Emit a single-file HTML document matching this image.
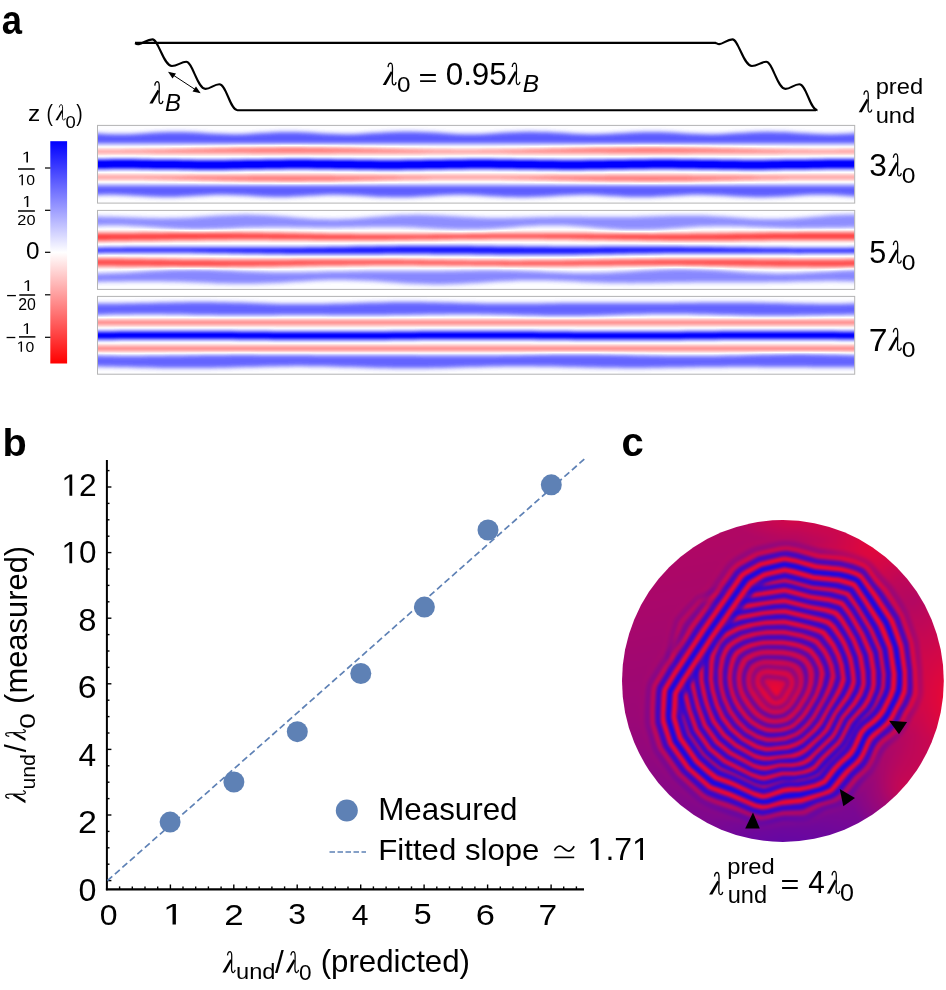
<!DOCTYPE html>
<html><head><meta charset="utf-8"><style>
html,body{margin:0;padding:0;background:#fff;overflow:hidden;width:946px;height:990px;}
svg{display:block;will-change:transform;}
text{font-family:"Liberation Sans",sans-serif;fill:#000;}
</style></head><body>
<svg width="946" height="990" viewBox="0 0 946 990">

<text x="1.73" y="33.60" font-size="41.25" style="font-family:'Liberation Sans';font-weight:bold" textLength="20.23" lengthAdjust="spacingAndGlyphs" >a</text>
<text x="2.58" y="455.93" font-size="38.40" style="font-family:'Liberation Sans';font-weight:bold" textLength="24.24" lengthAdjust="spacingAndGlyphs" >b</text>
<text x="621.44" y="456.10" font-size="40.52" style="font-family:'Liberation Sans';font-weight:bold" textLength="22.23" lengthAdjust="spacingAndGlyphs" >c</text>
<path d="M135.1,43.2 C136.5,44.3 137.6,44.3 138.9,44.1 C143,43.6 147,39.4 152.5,39.4 C158.50,39.40 163.50,66.00 171.90,66.00 C177.50,66.00 181.00,61.80 186.30,61.80 C192.50,61.80 197.50,88.90 205.40,88.90 C210.50,88.90 214.00,84.20 219.30,84.20 C226.50,84.20 230.00,110.20 237.50,110.20 L816,110.2" fill="none" stroke="#000" stroke-width="2.1" stroke-linejoin="round"/>
<path d="M135,42.9 L715.7,42.9 C716.8,43.3 717.8,44.1 719.2,44.1 C723,44 727,39.4 732.5,39.4 C738.50,39.40 743.50,66.00 751.90,66.00 C757.50,66.00 761.00,61.80 766.30,61.80 C772.50,61.80 777.50,88.90 785.40,88.90 C790.50,88.90 794.00,84.20 799.30,84.20 C806.50,84.20 810.00,110.20 817.50,110.20" fill="none" stroke="#000" stroke-width="2.1" stroke-linejoin="round"/>
<line x1="170" y1="73" x2="199" y2="92" stroke="#000" stroke-width="1"/>
<path d="M168,71.8 L176,73.5 L172.5,78.5 Z" fill="#000"/>
<path d="M200.7,93.3 L192.5,91.5 L196,86.5 Z" fill="#000"/>
<g transform="translate(149.40,81.50) scale(1.0149,1.0091)"><path d="M0,21.9L3.2,21.9L10,9.6L8.1,8.2Z" fill="#000"/><path d="M5.3,4.1C5.6,1.3 6.8,0.2 8,0.2C9.4,0.3 9.7,2.5 9.7,5L9.5,18C9.5,21 10.6,21.9 11.4,21.9C12.4,21.9 13,20.6 13.3,19.2" fill="none" stroke="#000" stroke-width="1.3"/></g>
<text x="165.06" y="111.10" font-size="23.40" style="font-family:'Liberation Sans';font-style:italic" textLength="15.95" lengthAdjust="spacingAndGlyphs" >B</text>
<g transform="translate(382.70,63.00) scale(1.0075,1.0000)"><path d="M0,21.9L3.2,21.9L10,9.6L8.1,8.2Z" fill="#000"/><path d="M5.3,4.1C5.6,1.3 6.8,0.2 8,0.2C9.4,0.3 9.7,2.5 9.7,5L9.5,18C9.5,21 10.6,21.9 11.4,21.9C12.4,21.9 13,20.6 13.3,19.2" fill="none" stroke="#000" stroke-width="1.3"/></g>
<text x="396.95" y="92.38" font-size="22.60" style="font-family:'Liberation Sans'" textLength="13.50" lengthAdjust="spacingAndGlyphs" >0</text>
<text x="418.51" y="85.68" font-size="26.69" style="font-family:'Liberation Sans'" textLength="18.99" lengthAdjust="spacingAndGlyphs" >=</text>
<text x="445.67" y="84.90" font-size="30.93" style="font-family:'Liberation Sans'" textLength="61.15" lengthAdjust="spacingAndGlyphs" >0.95</text>
<g transform="translate(507.10,63.00) scale(0.9701,0.9864)"><path d="M0,21.9L3.2,21.9L10,9.6L8.1,8.2Z" fill="#000"/><path d="M5.3,4.1C5.6,1.3 6.8,0.2 8,0.2C9.4,0.3 9.7,2.5 9.7,5L9.5,18C9.5,21 10.6,21.9 11.4,21.9C12.4,21.9 13,20.6 13.3,19.2" fill="none" stroke="#000" stroke-width="1.3"/></g>
<text x="522.75" y="92.20" font-size="23.11" style="font-family:'Liberation Sans';font-style:italic" textLength="16.29" lengthAdjust="spacingAndGlyphs" >B</text>
<g transform="translate(858.70,90.70) scale(0.9851,0.9818)"><path d="M0,21.9L3.2,21.9L10,9.6L8.1,8.2Z" fill="#000"/><path d="M5.3,4.1C5.6,1.3 6.8,0.2 8,0.2C9.4,0.3 9.7,2.5 9.7,5L9.5,18C9.5,21 10.6,21.9 11.4,21.9C12.4,21.9 13,20.6 13.3,19.2" fill="none" stroke="#000" stroke-width="1.3"/></g>
<text x="875.67" y="94.13" font-size="21.56" style="font-family:'Liberation Sans'" textLength="47.46" lengthAdjust="spacingAndGlyphs" >pred</text>
<text x="875.66" y="123.19" font-size="21.51" style="font-family:'Liberation Sans'" textLength="39.57" lengthAdjust="spacingAndGlyphs" >und</text>
<text x="869.30" y="175.70" font-size="31.07" style="font-family:'Liberation Sans'" textLength="17.60" lengthAdjust="spacingAndGlyphs" >3</text>
<g transform="translate(888.10,153.60) scale(0.9925,1.0182)"><path d="M0,21.9L3.2,21.9L10,9.6L8.1,8.2Z" fill="#000"/><path d="M5.3,4.1C5.6,1.3 6.8,0.2 8,0.2C9.4,0.3 9.7,2.5 9.7,5L9.5,18C9.5,21 10.6,21.9 11.4,21.9C12.4,21.9 13,20.6 13.3,19.2" fill="none" stroke="#000" stroke-width="1.3"/></g>
<text x="901.74" y="183.28" font-size="22.32" style="font-family:'Liberation Sans'" textLength="13.73" lengthAdjust="spacingAndGlyphs" >0</text>
<text x="869.28" y="262.89" font-size="31.24" style="font-family:'Liberation Sans'" textLength="17.01" lengthAdjust="spacingAndGlyphs" >5</text>
<g transform="translate(888.10,240.90) scale(0.9925,1.0136)"><path d="M0,21.9L3.2,21.9L10,9.6L8.1,8.2Z" fill="#000"/><path d="M5.3,4.1C5.6,1.3 6.8,0.2 8,0.2C9.4,0.3 9.7,2.5 9.7,5L9.5,18C9.5,21 10.6,21.9 11.4,21.9C12.4,21.9 13,20.6 13.3,19.2" fill="none" stroke="#000" stroke-width="1.3"/></g>
<text x="901.74" y="270.28" font-size="22.60" style="font-family:'Liberation Sans'" textLength="13.73" lengthAdjust="spacingAndGlyphs" >0</text>
<text x="868.76" y="350.50" font-size="31.11" style="font-family:'Liberation Sans'" textLength="18.84" lengthAdjust="spacingAndGlyphs" >7</text>
<g transform="translate(888.10,328.20) scale(0.9925,1.0136)"><path d="M0,21.9L3.2,21.9L10,9.6L8.1,8.2Z" fill="#000"/><path d="M5.3,4.1C5.6,1.3 6.8,0.2 8,0.2C9.4,0.3 9.7,2.5 9.7,5L9.5,18C9.5,21 10.6,21.9 11.4,21.9C12.4,21.9 13,20.6 13.3,19.2" fill="none" stroke="#000" stroke-width="1.3"/></g>
<text x="901.74" y="357.48" font-size="22.46" style="font-family:'Liberation Sans'" textLength="13.73" lengthAdjust="spacingAndGlyphs" >0</text>
<defs><linearGradient id="cb" x1="0" y1="0" x2="0" y2="1">
<stop offset="0" stop-color="#0000ff"/><stop offset="0.5" stop-color="#ffffff"/><stop offset="1" stop-color="#ff0000"/></linearGradient></defs>
<rect x="50.3" y="141.2" width="16.8" height="222.3" fill="url(#cb)"/>
<line x1="45" y1="168" x2="50.4" y2="168" stroke="#000" stroke-width="1.2"/>
<line x1="45" y1="210.3" x2="50.4" y2="210.3" stroke="#000" stroke-width="1.2"/>
<line x1="45" y1="252.3" x2="50.4" y2="252.3" stroke="#000" stroke-width="1.2"/>
<line x1="45" y1="294.8" x2="50.4" y2="294.8" stroke="#000" stroke-width="1.2"/>
<line x1="45" y1="337.3" x2="50.4" y2="337.3" stroke="#000" stroke-width="1.2"/>
<text x="27.91" y="120.60" font-size="22.52" style="font-family:'Liberation Sans'" textLength="12.21" lengthAdjust="spacingAndGlyphs" >z</text>
<text x="46.61" y="121.02" font-size="23.08" style="font-family:'Liberation Sans'" textLength="6.41" lengthAdjust="spacingAndGlyphs" >(</text>
<g transform="translate(55.40,104.50) scale(0.7388,0.7136)"><path d="M0,21.9L3.2,21.9L10,9.6L8.1,8.2Z" fill="#000"/><path d="M5.3,4.1C5.6,1.3 6.8,0.2 8,0.2C9.4,0.3 9.7,2.5 9.7,5L9.5,18C9.5,21 10.6,21.9 11.4,21.9C12.4,21.9 13,20.6 13.3,19.2" fill="none" stroke="#000" stroke-width="1.3"/></g>
<text x="65.58" y="128.14" font-size="16.10" style="font-family:'Liberation Sans'" textLength="10.24" lengthAdjust="spacingAndGlyphs" >0</text>
<text x="76.19" y="121.02" font-size="23.08" style="font-family:'Liberation Sans'" textLength="6.41" lengthAdjust="spacingAndGlyphs" >)</text>
<path transform="translate(21.72,162.60) scale(0.00902,-0.00767)" d="M515,0L515,1237L197,1010L197,1180L530,1409L696,1409L696,0Z" fill="#000"/>
<rect x="18" y="168.25" width="16.70" height="1.5" fill="#000"/>
<text x="17.58" y="185.25" font-size="15.54" style="font-family:'Liberation Sans'" textLength="17.53" lengthAdjust="spacingAndGlyphs" > 0</text><path transform="translate(17.58,185.25) scale(0.00770,-0.00759)" d="M515,0L515,1237L197,1010L197,1180L530,1409L696,1409L696,0Z" fill="#000"/>
<path transform="translate(22.30,206.90) scale(0.00862,-0.00781)" d="M515,0L515,1237L197,1010L197,1180L530,1409L696,1409L696,0Z" fill="#000"/>
<rect x="18" y="210.25" width="16.90" height="1.5" fill="#000"/>
<text x="17.38" y="224.95" font-size="15.54" style="font-family:'Liberation Sans'" textLength="18.16" lengthAdjust="spacingAndGlyphs" >20</text>
<text x="26.05" y="259.47" font-size="23.30" style="font-family:'Liberation Sans'" textLength="13.50" lengthAdjust="spacingAndGlyphs" >0</text>
<rect x="7.1" y="294.95" width="8.80" height="1.3" fill="#000"/>
<path transform="translate(22.82,291.10) scale(0.00902,-0.00767)" d="M515,0L515,1237L197,1010L197,1180L530,1409L696,1409L696,0Z" fill="#000"/>
<rect x="19.3" y="294.25" width="15.80" height="1.5" fill="#000"/>
<text x="18.30" y="309.95" font-size="15.68" style="font-family:'Liberation Sans'" textLength="17.62" lengthAdjust="spacingAndGlyphs" >20</text>
<rect x="6.6" y="336.85" width="8.70" height="1.3" fill="#000"/>
<path transform="translate(22.14,333.90) scale(0.00842,-0.00752)" d="M515,0L515,1237L197,1010L197,1180L530,1409L696,1409L696,0Z" fill="#000"/>
<rect x="19" y="336.15" width="16.40" height="1.5" fill="#000"/>
<text x="16.68" y="351.66" font-size="14.83" style="font-family:'Liberation Sans'" textLength="17.53" lengthAdjust="spacingAndGlyphs" > 0</text><path transform="translate(16.68,351.66) scale(0.00770,-0.00724)" d="M515,0L515,1237L197,1010L197,1180L530,1409L696,1409L696,0Z" fill="#000"/>
<filter id="cmap" x="0" y="0" width="1" height="1" color-interpolation-filters="sRGB">
<feGaussianBlur stdDeviation="2.2"/>
<feComponentTransfer>
<feFuncR type="table" tableValues="1 1 1 1 0.5 0 0"/>
<feFuncG type="table" tableValues="0 0 0.5 1 0.5 0 0"/>
<feFuncB type="table" tableValues="0 0 0.5 1 1 1 1"/>
</feComponentTransfer></filter>
<clipPath id="pc1"><rect x="97.5" y="125.4" width="757.2" height="77.69999999999999"/></clipPath>
<g clip-path="url(#pc1)"><g filter="url(#cmap)">
<rect x="80" y="110.4" width="800" height="107.69999999999999" fill="#808080"/>
<path d="M85,132.6 L92,133.0 L99,133.5 L106,133.9 L113,134.2 L120,134.3 L127,134.2 L134,133.9 L141,133.5 L148,133.1 L155,132.6 L162,132.3 L169,132.1 L176,132.0 L183,132.0 L190,132.3 L197,132.6 L204,133.0 L211,133.4 L218,133.8 L225,134.1 L232,134.2 L239,134.2 L246,133.9 L253,133.6 L260,133.1 L267,132.7 L274,132.3 L281,132.1 L288,132.0 L295,132.1 L302,132.3 L309,132.6 L316,133.0 L323,133.4 L330,133.8 L337,134.1 L344,134.2 L351,134.2 L358,133.9 L365,133.5 L372,133.1 L379,132.7 L386,132.3 L393,132.0 L400,131.8 L407,131.7 L414,131.8 L421,132.0 L428,132.2 L435,132.6 L442,133.0 L449,133.5 L456,133.9 L463,134.2 L470,134.3 L477,134.2 L484,133.9 L491,133.5 L498,133.0 L505,132.6 L512,132.2 L519,132.0 L526,131.8 L533,131.8 L540,131.9 L547,132.1 L554,132.4 L561,132.8 L568,133.2 L575,133.7 L582,134.0 L589,134.2 L596,134.2 L603,134.1 L610,133.7 L617,133.3 L624,132.9 L631,132.5 L638,132.2 L645,132.0 L652,131.9 L659,132.0 L666,132.2 L673,132.6 L680,133.0 L687,133.4 L694,133.8 L701,134.1 L708,134.2 L715,134.2 L722,133.9 L729,133.6 L736,133.1 L743,132.7 L750,132.3 L757,132.0 L764,131.8 L771,131.8 L778,131.9 L785,132.1 L792,132.4 L799,132.9 L806,133.3 L813,133.7 L820,134.1 L827,134.2 L834,134.2 L841,134.0 L848,133.7 L855,133.2 L862,132.8 L869,132.4 L869,143.8 L862,143.8 L855,143.8 L848,143.8 L841,143.8 L834,143.8 L827,143.8 L820,143.8 L813,143.8 L806,143.8 L799,143.8 L792,143.8 L785,143.8 L778,143.8 L771,143.8 L764,143.8 L757,143.8 L750,143.8 L743,143.8 L736,143.8 L729,143.8 L722,143.8 L715,143.8 L708,143.8 L701,143.8 L694,143.8 L687,143.8 L680,143.8 L673,143.8 L666,143.8 L659,143.8 L652,143.8 L645,143.8 L638,143.8 L631,143.8 L624,143.8 L617,143.8 L610,143.8 L603,143.8 L596,143.8 L589,143.8 L582,143.8 L575,143.8 L568,143.8 L561,143.8 L554,143.8 L547,143.8 L540,143.8 L533,143.8 L526,143.8 L519,143.8 L512,143.8 L505,143.8 L498,143.8 L491,143.8 L484,143.8 L477,143.8 L470,143.7 L463,143.8 L456,143.8 L449,143.8 L442,143.8 L435,143.8 L428,143.8 L421,143.8 L414,143.8 L407,143.8 L400,143.8 L393,143.8 L386,143.8 L379,143.8 L372,143.8 L365,143.8 L358,143.8 L351,143.8 L344,143.8 L337,143.8 L330,143.8 L323,143.8 L316,143.8 L309,143.8 L302,143.8 L295,143.8 L288,143.8 L281,143.8 L274,143.8 L267,143.8 L260,143.8 L253,143.8 L246,143.8 L239,143.8 L232,143.8 L225,143.8 L218,143.8 L211,143.8 L204,143.8 L197,143.8 L190,143.8 L183,143.8 L176,143.8 L169,143.8 L162,143.8 L155,143.8 L148,143.8 L141,143.8 L134,143.8 L127,143.8 L120,143.7 L113,143.8 L106,143.8 L99,143.8 L92,143.8 L85,143.8Z" fill="#fff" fill-opacity="0.429"/>
<path d="M85,149.8 L92,149.8 L99,149.9 L106,149.9 L113,149.9 L120,149.9 L127,149.8 L134,149.8 L141,149.7 L148,149.6 L155,149.5 L162,149.4 L169,149.2 L176,149.1 L183,148.9 L190,148.8 L197,148.6 L204,148.4 L211,148.2 L218,148.1 L225,147.9 L232,147.8 L239,147.6 L246,147.5 L253,147.4 L260,147.3 L267,147.2 L274,147.2 L281,147.1 L288,147.1 L295,147.1 L302,147.1 L309,147.2 L316,147.2 L323,147.3 L330,147.4 L337,147.6 L344,147.7 L351,147.8 L358,148.0 L365,148.2 L372,148.3 L379,148.5 L386,148.7 L393,148.8 L400,149.0 L407,149.2 L414,149.3 L421,149.4 L428,149.6 L435,149.7 L442,149.8 L449,149.8 L456,149.9 L463,149.9 L470,149.9 L477,149.9 L484,149.8 L491,149.8 L498,149.7 L505,149.6 L512,149.5 L519,149.4 L526,149.2 L533,149.1 L540,148.9 L547,148.8 L554,148.6 L561,148.4 L568,148.2 L575,148.1 L582,147.9 L589,147.8 L596,147.6 L603,147.5 L610,147.4 L617,147.3 L624,147.2 L631,147.2 L638,147.1 L645,147.1 L652,147.1 L659,147.1 L666,147.2 L673,147.2 L680,147.3 L687,147.4 L694,147.6 L701,147.7 L708,147.8 L715,148.0 L722,148.2 L729,148.3 L736,148.5 L743,148.7 L750,148.8 L757,149.0 L764,149.2 L771,149.3 L778,149.4 L785,149.6 L792,149.7 L799,149.8 L806,149.8 L813,149.9 L820,149.9 L827,149.9 L834,149.9 L841,149.8 L848,149.8 L855,149.7 L862,149.6 L869,149.5 L869,153.4 L862,153.3 L855,153.3 L848,153.3 L841,153.3 L834,153.3 L827,153.3 L820,153.3 L813,153.3 L806,153.3 L799,153.3 L792,153.3 L785,153.3 L778,153.4 L771,153.4 L764,153.4 L757,153.4 L750,153.5 L743,153.5 L736,153.5 L729,153.5 L722,153.5 L715,153.6 L708,153.6 L701,153.6 L694,153.6 L687,153.7 L680,153.7 L673,153.7 L666,153.7 L659,153.7 L652,153.7 L645,153.7 L638,153.7 L631,153.7 L624,153.7 L617,153.7 L610,153.7 L603,153.6 L596,153.6 L589,153.6 L582,153.6 L575,153.6 L568,153.5 L561,153.5 L554,153.5 L547,153.5 L540,153.4 L533,153.4 L526,153.4 L519,153.4 L512,153.4 L505,153.3 L498,153.3 L491,153.3 L484,153.3 L477,153.3 L470,153.3 L463,153.3 L456,153.3 L449,153.3 L442,153.3 L435,153.3 L428,153.3 L421,153.4 L414,153.4 L407,153.4 L400,153.4 L393,153.5 L386,153.5 L379,153.5 L372,153.5 L365,153.5 L358,153.6 L351,153.6 L344,153.6 L337,153.6 L330,153.7 L323,153.7 L316,153.7 L309,153.7 L302,153.7 L295,153.7 L288,153.7 L281,153.7 L274,153.7 L267,153.7 L260,153.7 L253,153.7 L246,153.6 L239,153.6 L232,153.6 L225,153.6 L218,153.6 L211,153.5 L204,153.5 L197,153.5 L190,153.5 L183,153.4 L176,153.4 L169,153.4 L162,153.4 L155,153.4 L148,153.3 L141,153.3 L134,153.3 L127,153.3 L120,153.3 L113,153.3 L106,153.3 L99,153.3 L92,153.3 L85,153.3Z" fill="#000" fill-opacity="0.358"/>
<path d="M85,159.9 L92,159.8 L99,159.7 L106,159.7 L113,159.6 L120,159.6 L127,159.6 L134,159.6 L141,159.7 L148,159.8 L155,159.9 L162,159.9 L169,160.0 L176,160.1 L183,160.2 L190,160.3 L197,160.4 L204,160.4 L211,160.4 L218,160.4 L225,160.4 L232,160.3 L239,160.2 L246,160.1 L253,160.0 L260,159.9 L267,159.8 L274,159.8 L281,159.7 L288,159.6 L295,159.6 L302,159.6 L309,159.6 L316,159.7 L323,159.7 L330,159.8 L337,159.9 L344,160.0 L351,160.1 L358,160.2 L365,160.2 L372,160.3 L379,160.4 L386,160.4 L393,160.4 L400,160.4 L407,160.3 L414,160.3 L421,160.2 L428,160.1 L435,160.0 L442,159.9 L449,159.8 L456,159.7 L463,159.7 L470,159.6 L477,159.6 L484,159.6 L491,159.6 L498,159.7 L505,159.7 L512,159.8 L519,159.9 L526,160.0 L533,160.1 L540,160.2 L547,160.3 L554,160.3 L561,160.4 L568,160.4 L575,160.4 L582,160.4 L589,160.3 L596,160.3 L603,160.2 L610,160.1 L617,160.0 L624,159.9 L631,159.8 L638,159.7 L645,159.7 L652,159.6 L659,159.6 L666,159.6 L673,159.6 L680,159.7 L687,159.8 L694,159.8 L701,159.9 L708,160.0 L715,160.1 L722,160.2 L729,160.3 L736,160.3 L743,160.4 L750,160.4 L757,160.4 L764,160.4 L771,160.3 L778,160.2 L785,160.1 L792,160.1 L799,160.0 L806,159.9 L813,159.8 L820,159.7 L827,159.6 L834,159.6 L841,159.6 L848,159.6 L855,159.6 L862,159.7 L869,159.8 L869,168.8 L862,168.7 L855,168.6 L848,168.6 L841,168.6 L834,168.6 L827,168.6 L820,168.7 L813,168.8 L806,168.9 L799,169.0 L792,169.1 L785,169.1 L778,169.2 L771,169.3 L764,169.4 L757,169.4 L750,169.4 L743,169.4 L736,169.3 L729,169.3 L722,169.2 L715,169.1 L708,169.0 L701,168.9 L694,168.8 L687,168.8 L680,168.7 L673,168.6 L666,168.6 L659,168.6 L652,168.6 L645,168.7 L638,168.7 L631,168.8 L624,168.9 L617,169.0 L610,169.1 L603,169.2 L596,169.3 L589,169.3 L582,169.4 L575,169.4 L568,169.4 L561,169.4 L554,169.3 L547,169.3 L540,169.2 L533,169.1 L526,169.0 L519,168.9 L512,168.8 L505,168.7 L498,168.7 L491,168.6 L484,168.6 L477,168.6 L470,168.6 L463,168.7 L456,168.7 L449,168.8 L442,168.9 L435,169.0 L428,169.1 L421,169.2 L414,169.3 L407,169.3 L400,169.4 L393,169.4 L386,169.4 L379,169.4 L372,169.3 L365,169.2 L358,169.2 L351,169.1 L344,169.0 L337,168.9 L330,168.8 L323,168.7 L316,168.7 L309,168.6 L302,168.6 L295,168.6 L288,168.6 L281,168.7 L274,168.8 L267,168.8 L260,168.9 L253,169.0 L246,169.1 L239,169.2 L232,169.3 L225,169.4 L218,169.4 L211,169.4 L204,169.4 L197,169.4 L190,169.3 L183,169.2 L176,169.1 L169,169.0 L162,168.9 L155,168.9 L148,168.8 L141,168.7 L134,168.6 L127,168.6 L120,168.6 L113,168.6 L106,168.7 L99,168.7 L92,168.8 L85,168.9Z" fill="#fff" fill-opacity="0.765"/>
<path d="M85,175.5 L92,175.5 L99,175.5 L106,175.5 L113,175.5 L120,175.5 L127,175.5 L134,175.5 L141,175.5 L148,175.5 L155,175.4 L162,175.4 L169,175.4 L176,175.4 L183,175.4 L190,175.3 L197,175.3 L204,175.3 L211,175.3 L218,175.2 L225,175.2 L232,175.2 L239,175.2 L246,175.2 L253,175.1 L260,175.1 L267,175.1 L274,175.1 L281,175.1 L288,175.1 L295,175.1 L302,175.1 L309,175.1 L316,175.1 L323,175.1 L330,175.1 L337,175.2 L344,175.2 L351,175.2 L358,175.2 L365,175.3 L372,175.3 L379,175.3 L386,175.3 L393,175.3 L400,175.4 L407,175.4 L414,175.4 L421,175.4 L428,175.5 L435,175.5 L442,175.5 L449,175.5 L456,175.5 L463,175.5 L470,175.5 L477,175.5 L484,175.5 L491,175.5 L498,175.5 L505,175.5 L512,175.4 L519,175.4 L526,175.4 L533,175.4 L540,175.4 L547,175.3 L554,175.3 L561,175.3 L568,175.3 L575,175.2 L582,175.2 L589,175.2 L596,175.2 L603,175.2 L610,175.1 L617,175.1 L624,175.1 L631,175.1 L638,175.1 L645,175.1 L652,175.1 L659,175.1 L666,175.1 L673,175.1 L680,175.1 L687,175.1 L694,175.2 L701,175.2 L708,175.2 L715,175.2 L722,175.3 L729,175.3 L736,175.3 L743,175.3 L750,175.3 L757,175.4 L764,175.4 L771,175.4 L778,175.4 L785,175.5 L792,175.5 L799,175.5 L806,175.5 L813,175.5 L820,175.5 L827,175.5 L834,175.5 L841,175.5 L848,175.5 L855,175.5 L862,175.5 L869,175.4 L869,179.3 L862,179.2 L855,179.1 L848,179.0 L841,179.0 L834,178.9 L827,178.9 L820,178.9 L813,178.9 L806,179.0 L799,179.0 L792,179.1 L785,179.2 L778,179.4 L771,179.5 L764,179.6 L757,179.8 L750,180.0 L743,180.1 L736,180.3 L729,180.5 L722,180.6 L715,180.8 L708,181.0 L701,181.1 L694,181.2 L687,181.4 L680,181.5 L673,181.6 L666,181.6 L659,181.7 L652,181.7 L645,181.7 L638,181.7 L631,181.6 L624,181.6 L617,181.5 L610,181.4 L603,181.3 L596,181.2 L589,181.0 L582,180.9 L575,180.7 L568,180.6 L561,180.4 L554,180.2 L547,180.0 L540,179.9 L533,179.7 L526,179.6 L519,179.4 L512,179.3 L505,179.2 L498,179.1 L491,179.0 L484,179.0 L477,178.9 L470,178.9 L463,178.9 L456,178.9 L449,179.0 L442,179.0 L435,179.1 L428,179.2 L421,179.4 L414,179.5 L407,179.6 L400,179.8 L393,180.0 L386,180.1 L379,180.3 L372,180.5 L365,180.6 L358,180.8 L351,181.0 L344,181.1 L337,181.2 L330,181.4 L323,181.5 L316,181.6 L309,181.6 L302,181.7 L295,181.7 L288,181.7 L281,181.7 L274,181.6 L267,181.6 L260,181.5 L253,181.4 L246,181.3 L239,181.2 L232,181.0 L225,180.9 L218,180.7 L211,180.6 L204,180.4 L197,180.2 L190,180.0 L183,179.9 L176,179.7 L169,179.6 L162,179.4 L155,179.3 L148,179.2 L141,179.1 L134,179.0 L127,179.0 L120,178.9 L113,178.9 L106,178.9 L99,178.9 L92,179.0 L85,179.0Z" fill="#000" fill-opacity="0.358"/>
<path d="M85,185.2 L92,185.2 L99,185.2 L106,185.2 L113,185.2 L120,185.2 L127,185.2 L134,185.2 L141,185.2 L148,185.2 L155,185.2 L162,185.2 L169,185.2 L176,185.2 L183,185.2 L190,185.2 L197,185.2 L204,185.2 L211,185.2 L218,185.2 L225,185.2 L232,185.2 L239,185.2 L246,185.2 L253,185.2 L260,185.2 L267,185.2 L274,185.2 L281,185.2 L288,185.2 L295,185.2 L302,185.2 L309,185.2 L316,185.2 L323,185.2 L330,185.2 L337,185.2 L344,185.2 L351,185.2 L358,185.2 L365,185.2 L372,185.2 L379,185.2 L386,185.2 L393,185.2 L400,185.2 L407,185.2 L414,185.2 L421,185.2 L428,185.2 L435,185.2 L442,185.2 L449,185.2 L456,185.2 L463,185.2 L470,185.2 L477,185.2 L484,185.2 L491,185.2 L498,185.2 L505,185.2 L512,185.2 L519,185.2 L526,185.2 L533,185.2 L540,185.2 L547,185.2 L554,185.2 L561,185.2 L568,185.2 L575,185.2 L582,185.2 L589,185.2 L596,185.2 L603,185.2 L610,185.2 L617,185.2 L624,185.2 L631,185.2 L638,185.2 L645,185.2 L652,185.2 L659,185.2 L666,185.2 L673,185.2 L680,185.2 L687,185.2 L694,185.2 L701,185.2 L708,185.2 L715,185.2 L722,185.2 L729,185.2 L736,185.2 L743,185.2 L750,185.2 L757,185.2 L764,185.2 L771,185.2 L778,185.2 L785,185.2 L792,185.2 L799,185.2 L806,185.2 L813,185.2 L820,185.3 L827,185.2 L834,185.2 L841,185.2 L848,185.2 L855,185.2 L862,185.2 L869,185.2 L869,197.1 L862,196.8 L855,196.4 L848,196.0 L841,195.5 L834,195.1 L827,194.8 L820,194.7 L813,194.8 L806,195.1 L799,195.5 L792,196.0 L785,196.4 L778,196.8 L771,197.0 L764,197.2 L757,197.2 L750,197.1 L743,196.8 L736,196.5 L729,196.1 L722,195.6 L715,195.2 L708,194.9 L701,194.8 L694,194.8 L687,195.0 L680,195.4 L673,195.8 L666,196.3 L659,196.6 L652,196.9 L645,197.1 L638,197.1 L631,196.9 L624,196.7 L617,196.3 L610,195.9 L603,195.4 L596,195.1 L589,194.8 L582,194.8 L575,194.9 L568,195.2 L561,195.6 L554,196.0 L547,196.5 L540,196.8 L533,197.1 L526,197.2 L519,197.2 L512,197.1 L505,196.9 L498,196.6 L491,196.2 L484,195.7 L477,195.3 L470,194.9 L463,194.8 L456,194.8 L449,195.0 L442,195.3 L435,195.8 L428,196.2 L421,196.6 L414,196.9 L407,197.2 L400,197.3 L393,197.2 L386,197.1 L379,196.9 L372,196.5 L365,196.1 L358,195.6 L351,195.2 L344,194.9 L337,194.8 L330,194.8 L323,195.0 L316,195.4 L309,195.8 L302,196.2 L295,196.6 L288,196.9 L281,197.0 L274,197.0 L267,196.8 L260,196.5 L253,196.1 L246,195.6 L239,195.2 L232,194.9 L225,194.8 L218,194.8 L211,195.0 L204,195.4 L197,195.8 L190,196.3 L183,196.6 L176,196.9 L169,197.0 L162,197.0 L155,196.8 L148,196.5 L141,196.1 L134,195.7 L127,195.3 L120,194.9 L113,194.8 L106,194.8 L99,195.0 L92,195.3 L85,195.8Z" fill="#fff" fill-opacity="0.415"/>
</g></g>
<rect x="97.5" y="125.4" width="757.2" height="77.69999999999999" fill="none" stroke="#b4b4b4" stroke-width="1"/>
<clipPath id="pc2"><rect x="97.5" y="210.4" width="757.2" height="78.99999999999997"/></clipPath>
<g clip-path="url(#pc2)"><g filter="url(#cmap)">
<rect x="80" y="195.4" width="800" height="108.99999999999997" fill="#808080"/>
<path d="M85,216.5 L92,216.5 L99,216.6 L106,216.7 L113,216.8 L120,217.1 L127,217.3 L134,217.6 L141,217.8 L148,218.0 L155,218.1 L162,218.2 L169,218.1 L176,218.0 L183,217.8 L190,217.4 L197,217.0 L204,216.5 L211,216.1 L218,215.6 L225,215.2 L232,214.9 L239,214.7 L246,214.6 L253,214.7 L260,214.9 L267,215.2 L274,215.7 L281,216.2 L288,216.8 L295,217.4 L302,218.0 L309,218.5 L316,218.9 L323,219.1 L330,219.2 L337,219.2 L344,219.0 L351,218.7 L358,218.2 L365,217.7 L372,217.1 L379,216.5 L386,216.0 L393,215.5 L400,215.1 L407,214.9 L414,214.8 L421,214.8 L428,214.9 L435,215.2 L442,215.5 L449,215.9 L456,216.3 L463,216.8 L470,217.1 L477,217.5 L484,217.7 L491,217.9 L498,217.9 L505,217.9 L512,217.8 L519,217.7 L526,217.5 L533,217.3 L540,217.1 L547,216.9 L554,216.8 L561,216.7 L568,216.7 L575,216.7 L582,216.8 L589,216.9 L596,217.0 L603,217.1 L610,217.1 L617,217.1 L624,217.0 L631,216.9 L638,216.8 L645,216.5 L652,216.3 L659,216.0 L666,215.8 L673,215.6 L680,215.5 L687,215.4 L694,215.5 L701,215.6 L708,215.8 L715,216.2 L722,216.6 L729,217.1 L736,217.5 L743,218.0 L750,218.4 L757,218.7 L764,218.9 L771,219.0 L778,218.9 L785,218.7 L792,218.4 L799,217.9 L806,217.4 L813,216.8 L820,216.2 L827,215.6 L834,215.1 L841,214.7 L848,214.5 L855,214.4 L862,214.4 L869,214.6 L869,228.0 L862,227.9 L855,227.8 L848,227.8 L841,227.9 L834,228.0 L827,228.1 L820,228.2 L813,228.3 L806,228.3 L799,228.4 L792,228.3 L785,228.2 L778,228.1 L771,227.8 L764,227.5 L757,227.2 L750,226.9 L743,226.6 L736,226.4 L729,226.2 L722,226.2 L715,226.2 L708,226.4 L701,226.6 L694,227.0 L687,227.5 L680,228.0 L673,228.5 L666,229.0 L659,229.4 L652,229.8 L645,230.0 L638,230.1 L631,230.1 L624,229.9 L617,229.5 L610,229.1 L603,228.5 L596,227.9 L589,227.3 L582,226.7 L575,226.2 L568,225.8 L561,225.5 L554,225.4 L547,225.4 L540,225.6 L533,225.9 L526,226.3 L519,226.8 L512,227.4 L505,227.9 L498,228.4 L491,228.9 L484,229.3 L477,229.5 L470,229.6 L463,229.6 L456,229.5 L449,229.3 L442,229.0 L435,228.7 L428,228.3 L421,227.9 L414,227.6 L407,227.3 L400,227.1 L393,227.0 L386,227.0 L379,227.0 L372,227.1 L365,227.2 L358,227.3 L351,227.5 L344,227.6 L337,227.7 L330,227.8 L323,227.8 L316,227.7 L309,227.6 L302,227.5 L295,227.4 L288,227.3 L281,227.3 L274,227.2 L267,227.3 L260,227.4 L253,227.5 L246,227.8 L239,228.1 L232,228.4 L225,228.7 L218,229.0 L211,229.2 L204,229.4 L197,229.4 L190,229.4 L183,229.2 L176,229.0 L169,228.6 L162,228.1 L155,227.6 L148,227.1 L141,226.6 L134,226.2 L127,225.8 L120,225.6 L113,225.5 L106,225.5 L99,225.7 L92,226.1 L85,226.5Z" fill="#fff" fill-opacity="0.290"/>
<path d="M85,233.2 L92,233.2 L99,233.1 L106,233.1 L113,233.1 L120,233.0 L127,232.9 L134,232.9 L141,232.8 L148,232.8 L155,232.7 L162,232.7 L169,232.6 L176,232.6 L183,232.5 L190,232.5 L197,232.5 L204,232.5 L211,232.5 L218,232.5 L225,232.5 L232,232.6 L239,232.6 L246,232.7 L253,232.7 L260,232.8 L267,232.9 L274,233.0 L281,233.1 L288,233.2 L295,233.3 L302,233.4 L309,233.6 L316,233.7 L323,233.8 L330,233.9 L337,234.0 L344,234.0 L351,234.1 L358,234.2 L365,234.2 L372,234.3 L379,234.3 L386,234.3 L393,234.3 L400,234.3 L407,234.3 L414,234.3 L421,234.2 L428,234.2 L435,234.1 L442,234.1 L449,234.0 L456,233.9 L463,233.9 L470,233.8 L477,233.7 L484,233.7 L491,233.6 L498,233.6 L505,233.5 L512,233.5 L519,233.5 L526,233.4 L533,233.4 L540,233.4 L547,233.4 L554,233.5 L561,233.5 L568,233.5 L575,233.5 L582,233.6 L589,233.6 L596,233.7 L603,233.7 L610,233.7 L617,233.8 L624,233.8 L631,233.8 L638,233.8 L645,233.8 L652,233.9 L659,233.8 L666,233.8 L673,233.8 L680,233.8 L687,233.7 L694,233.6 L701,233.6 L708,233.5 L715,233.4 L722,233.3 L729,233.2 L736,233.1 L743,233.0 L750,232.9 L757,232.8 L764,232.7 L771,232.6 L778,232.5 L785,232.5 L792,232.4 L799,232.3 L806,232.3 L813,232.2 L820,232.2 L827,232.2 L834,232.2 L841,232.2 L848,232.3 L855,232.3 L862,232.3 L869,232.4 L869,240.2 L862,240.1 L855,240.1 L848,240.1 L841,240.0 L834,240.0 L827,240.0 L820,240.0 L813,240.0 L806,240.0 L799,240.0 L792,240.0 L785,240.1 L778,240.1 L771,240.1 L764,240.2 L757,240.2 L750,240.3 L743,240.3 L736,240.4 L729,240.4 L722,240.4 L715,240.5 L708,240.5 L701,240.5 L694,240.5 L687,240.5 L680,240.4 L673,240.4 L666,240.4 L659,240.3 L652,240.2 L645,240.2 L638,240.1 L631,240.0 L624,239.9 L617,239.8 L610,239.7 L603,239.6 L596,239.5 L589,239.4 L582,239.3 L575,239.2 L568,239.1 L561,239.0 L554,238.9 L547,238.9 L540,238.8 L533,238.8 L526,238.8 L519,238.7 L512,238.7 L505,238.8 L498,238.8 L491,238.8 L484,238.9 L477,238.9 L470,239.0 L463,239.1 L456,239.1 L449,239.2 L442,239.3 L435,239.4 L428,239.5 L421,239.6 L414,239.6 L407,239.7 L400,239.8 L393,239.8 L386,239.9 L379,239.9 L372,239.9 L365,239.9 L358,240.0 L351,240.0 L344,240.0 L337,239.9 L330,239.9 L323,239.9 L316,239.9 L309,239.8 L302,239.8 L295,239.8 L288,239.7 L281,239.7 L274,239.7 L267,239.6 L260,239.6 L253,239.6 L246,239.6 L239,239.6 L232,239.6 L225,239.7 L218,239.7 L211,239.8 L204,239.8 L197,239.9 L190,240.0 L183,240.0 L176,240.1 L169,240.2 L162,240.3 L155,240.4 L148,240.5 L141,240.6 L134,240.6 L127,240.7 L120,240.8 L113,240.8 L106,240.9 L99,240.9 L92,241.0 L85,241.0Z" fill="#000" fill-opacity="0.511"/>
<path d="M85,248.0 L92,247.9 L99,247.9 L106,247.8 L113,247.7 L120,247.7 L127,247.6 L134,247.6 L141,247.5 L148,247.5 L155,247.4 L162,247.4 L169,247.4 L176,247.4 L183,247.4 L190,247.4 L197,247.4 L204,247.4 L211,247.4 L218,247.5 L225,247.5 L232,247.5 L239,247.5 L246,247.6 L253,247.6 L260,247.6 L267,247.6 L274,247.6 L281,247.5 L288,247.5 L295,247.4 L302,247.4 L309,247.3 L316,247.2 L323,247.2 L330,247.1 L337,247.0 L344,246.9 L351,246.8 L358,246.6 L365,246.5 L372,246.4 L379,246.3 L386,246.3 L393,246.2 L400,246.1 L407,246.1 L414,246.0 L421,246.0 L428,246.0 L435,246.0 L442,246.0 L449,246.0 L456,246.0 L463,246.1 L470,246.1 L477,246.2 L484,246.3 L491,246.3 L498,246.4 L505,246.5 L512,246.6 L519,246.6 L526,246.7 L533,246.8 L540,246.8 L547,246.8 L554,246.9 L561,246.9 L568,246.9 L575,246.9 L582,246.9 L589,246.9 L596,246.9 L603,246.8 L610,246.8 L617,246.8 L624,246.8 L631,246.8 L638,246.7 L645,246.7 L652,246.7 L659,246.7 L666,246.8 L673,246.8 L680,246.8 L687,246.9 L694,246.9 L701,247.0 L708,247.1 L715,247.2 L722,247.3 L729,247.4 L736,247.5 L743,247.6 L750,247.7 L757,247.8 L764,247.9 L771,248.0 L778,248.0 L785,248.1 L792,248.2 L799,248.2 L806,248.2 L813,248.3 L820,248.3 L827,248.3 L834,248.2 L841,248.2 L848,248.2 L855,248.1 L862,248.0 L869,248.0 L869,252.8 L862,252.8 L855,252.9 L848,253.0 L841,253.0 L834,253.1 L827,253.1 L820,253.1 L813,253.1 L806,253.1 L799,253.2 L792,253.1 L785,253.1 L778,253.1 L771,253.1 L764,253.1 L757,253.0 L750,253.0 L743,253.0 L736,252.9 L729,252.9 L722,252.9 L715,252.9 L708,252.9 L701,252.9 L694,252.9 L687,252.9 L680,253.0 L673,253.0 L666,253.1 L659,253.2 L652,253.3 L645,253.4 L638,253.5 L631,253.6 L624,253.7 L617,253.8 L610,253.9 L603,254.0 L596,254.1 L589,254.2 L582,254.3 L575,254.4 L568,254.4 L561,254.5 L554,254.5 L547,254.6 L540,254.6 L533,254.6 L526,254.6 L519,254.5 L512,254.5 L505,254.4 L498,254.4 L491,254.3 L484,254.3 L477,254.2 L470,254.1 L463,254.1 L456,254.0 L449,254.0 L442,253.9 L435,253.9 L428,253.8 L421,253.8 L414,253.8 L407,253.8 L400,253.8 L393,253.8 L386,253.8 L379,253.9 L372,253.9 L365,253.9 L358,253.9 L351,254.0 L344,254.0 L337,254.0 L330,254.0 L323,254.0 L316,254.0 L309,254.0 L302,254.0 L295,253.9 L288,253.9 L281,253.8 L274,253.8 L267,253.7 L260,253.6 L253,253.5 L246,253.4 L239,253.3 L232,253.2 L225,253.1 L218,253.0 L211,252.9 L204,252.8 L197,252.7 L190,252.6 L183,252.5 L176,252.5 L169,252.4 L162,252.4 L155,252.4 L148,252.4 L141,252.4 L134,252.4 L127,252.5 L120,252.5 L113,252.6 L106,252.6 L99,252.7 L92,252.7 L85,252.8Z" fill="#fff" fill-opacity="0.620"/>
<path d="M85,258.4 L92,258.4 L99,258.5 L106,258.5 L113,258.6 L120,258.6 L127,258.7 L134,258.8 L141,258.8 L148,258.9 L155,259.0 L162,259.1 L169,259.2 L176,259.3 L183,259.4 L190,259.4 L197,259.5 L204,259.6 L211,259.6 L218,259.7 L225,259.7 L232,259.8 L239,259.8 L246,259.8 L253,259.8 L260,259.8 L267,259.8 L274,259.7 L281,259.7 L288,259.7 L295,259.6 L302,259.6 L309,259.6 L316,259.5 L323,259.5 L330,259.5 L337,259.5 L344,259.4 L351,259.4 L358,259.4 L365,259.5 L372,259.5 L379,259.5 L386,259.5 L393,259.6 L400,259.6 L407,259.7 L414,259.8 L421,259.8 L428,259.9 L435,260.0 L442,260.1 L449,260.2 L456,260.3 L463,260.3 L470,260.4 L477,260.5 L484,260.5 L491,260.6 L498,260.6 L505,260.6 L512,260.7 L519,260.7 L526,260.6 L533,260.6 L540,260.6 L547,260.5 L554,260.5 L561,260.4 L568,260.3 L575,260.2 L582,260.1 L589,260.0 L596,259.9 L603,259.8 L610,259.7 L617,259.6 L624,259.5 L631,259.4 L638,259.3 L645,259.2 L652,259.2 L659,259.1 L666,259.0 L673,259.0 L680,259.0 L687,258.9 L694,258.9 L701,258.9 L708,258.9 L715,258.9 L722,259.0 L729,259.0 L736,259.0 L743,259.1 L750,259.1 L757,259.2 L764,259.2 L771,259.3 L778,259.3 L785,259.3 L792,259.4 L799,259.4 L806,259.4 L813,259.4 L820,259.4 L827,259.4 L834,259.4 L841,259.4 L848,259.3 L855,259.3 L862,259.3 L869,259.2 L869,267.0 L862,267.1 L855,267.1 L848,267.1 L841,267.2 L834,267.2 L827,267.2 L820,267.2 L813,267.2 L806,267.1 L799,267.1 L792,267.0 L785,266.9 L778,266.9 L771,266.8 L764,266.7 L757,266.6 L750,266.5 L743,266.4 L736,266.3 L729,266.2 L722,266.1 L715,266.0 L708,265.9 L701,265.8 L694,265.8 L687,265.7 L680,265.6 L673,265.6 L666,265.6 L659,265.6 L652,265.5 L645,265.6 L638,265.6 L631,265.6 L624,265.6 L617,265.6 L610,265.7 L603,265.7 L596,265.7 L589,265.8 L582,265.8 L575,265.9 L568,265.9 L561,265.9 L554,265.9 L547,266.0 L540,266.0 L533,266.0 L526,266.0 L519,265.9 L512,265.9 L505,265.9 L498,265.8 L491,265.8 L484,265.7 L477,265.7 L470,265.6 L463,265.5 L456,265.5 L449,265.4 L442,265.3 L435,265.3 L428,265.2 L421,265.2 L414,265.1 L407,265.1 L400,265.1 L393,265.1 L386,265.1 L379,265.1 L372,265.1 L365,265.2 L358,265.2 L351,265.3 L344,265.4 L337,265.4 L330,265.5 L323,265.6 L316,265.7 L309,265.8 L302,266.0 L295,266.1 L288,266.2 L281,266.3 L274,266.4 L267,266.5 L260,266.6 L253,266.7 L246,266.7 L239,266.8 L232,266.8 L225,266.9 L218,266.9 L211,266.9 L204,266.9 L197,266.9 L190,266.9 L183,266.9 L176,266.8 L169,266.8 L162,266.7 L155,266.7 L148,266.6 L141,266.6 L134,266.5 L127,266.5 L120,266.4 L113,266.3 L106,266.3 L99,266.3 L92,266.2 L85,266.2Z" fill="#000" fill-opacity="0.480"/>
<path d="M85,273.3 L92,273.4 L99,273.4 L106,273.3 L113,273.1 L120,272.8 L127,272.4 L134,272.0 L141,271.5 L148,271.0 L155,270.6 L162,270.2 L169,269.8 L176,269.6 L183,269.4 L190,269.3 L197,269.3 L204,269.4 L211,269.6 L218,269.9 L225,270.2 L232,270.5 L239,270.9 L246,271.2 L253,271.5 L260,271.8 L267,272.0 L274,272.2 L281,272.3 L288,272.3 L295,272.3 L302,272.2 L309,272.1 L316,272.0 L323,271.8 L330,271.6 L337,271.5 L344,271.4 L351,271.2 L358,271.2 L365,271.1 L372,271.1 L379,271.1 L386,271.1 L393,271.1 L400,271.1 L407,271.1 L414,271.1 L421,271.1 L428,271.1 L435,271.0 L442,270.9 L449,270.8 L456,270.7 L463,270.5 L470,270.4 L477,270.3 L484,270.3 L491,270.3 L498,270.3 L505,270.4 L512,270.6 L519,270.8 L526,271.0 L533,271.3 L540,271.6 L547,271.9 L554,272.2 L561,272.5 L568,272.7 L575,272.9 L582,272.9 L589,272.9 L596,272.8 L603,272.7 L610,272.4 L617,272.0 L624,271.7 L631,271.2 L638,270.8 L645,270.3 L652,269.9 L659,269.6 L666,269.3 L673,269.1 L680,269.0 L687,269.0 L694,269.2 L701,269.4 L708,269.7 L715,270.1 L722,270.6 L729,271.1 L736,271.6 L743,272.0 L750,272.5 L757,272.8 L764,273.1 L771,273.3 L778,273.4 L785,273.3 L792,273.2 L799,273.0 L806,272.6 L813,272.3 L820,271.8 L827,271.4 L834,271.0 L841,270.6 L848,270.2 L855,269.9 L862,269.7 L869,269.6 L869,282.0 L862,281.7 L855,281.5 L848,281.3 L841,281.2 L834,281.1 L827,281.1 L820,281.2 L813,281.3 L806,281.4 L799,281.5 L792,281.7 L785,281.9 L778,282.0 L771,282.1 L764,282.2 L757,282.2 L750,282.3 L743,282.3 L736,282.3 L729,282.3 L722,282.2 L715,282.2 L708,282.2 L701,282.3 L694,282.3 L687,282.4 L680,282.5 L673,282.6 L666,282.7 L659,282.8 L652,283.0 L645,283.1 L638,283.1 L631,283.2 L624,283.1 L617,283.1 L610,282.9 L603,282.7 L596,282.5 L589,282.2 L582,281.9 L575,281.6 L568,281.3 L561,281.0 L554,280.7 L547,280.6 L540,280.5 L533,280.4 L526,280.5 L519,280.6 L512,280.9 L505,281.2 L498,281.6 L491,282.0 L484,282.5 L477,282.9 L470,283.3 L463,283.7 L456,284.0 L449,284.3 L442,284.4 L435,284.4 L428,284.3 L421,284.1 L414,283.8 L407,283.4 L400,283.0 L393,282.5 L386,282.0 L379,281.5 L372,281.1 L365,280.7 L358,280.4 L351,280.2 L344,280.1 L337,280.0 L330,280.1 L323,280.3 L316,280.6 L309,281.0 L302,281.4 L295,281.8 L288,282.2 L281,282.7 L274,283.0 L267,283.3 L260,283.6 L253,283.8 L246,283.8 L239,283.8 L232,283.7 L225,283.6 L218,283.4 L211,283.1 L204,282.8 L197,282.6 L190,282.3 L183,282.0 L176,281.8 L169,281.7 L162,281.5 L155,281.5 L148,281.4 L141,281.5 L134,281.5 L127,281.6 L120,281.7 L113,281.8 L106,281.8 L99,281.9 L92,282.0 L85,282.0Z" fill="#fff" fill-opacity="0.304"/>
</g></g>
<rect x="97.5" y="210.4" width="757.2" height="78.99999999999997" fill="none" stroke="#b4b4b4" stroke-width="1"/>
<clipPath id="pc3"><rect x="97.5" y="296.4" width="757.2" height="77.80000000000001"/></clipPath>
<g clip-path="url(#pc3)"><g filter="url(#cmap)">
<rect x="80" y="281.4" width="800" height="107.80000000000001" fill="#808080"/>
<path d="M85,303.5 L92,303.6 L99,303.6 L106,303.6 L113,303.5 L120,303.5 L127,303.3 L134,303.2 L141,303.1 L148,302.9 L155,302.7 L162,302.6 L169,302.4 L176,302.3 L183,302.2 L190,302.1 L197,302.0 L204,302.0 L211,302.1 L218,302.2 L225,302.3 L232,302.5 L239,302.6 L246,302.8 L253,303.1 L260,303.3 L267,303.5 L274,303.7 L281,303.9 L288,304.0 L295,304.1 L302,304.1 L309,304.1 L316,304.0 L323,303.9 L330,303.8 L337,303.6 L344,303.4 L351,303.2 L358,303.0 L365,302.8 L372,302.6 L379,302.4 L386,302.2 L393,302.1 L400,302.1 L407,302.0 L414,302.1 L421,302.1 L428,302.2 L435,302.3 L442,302.5 L449,302.6 L456,302.8 L463,303.0 L470,303.1 L477,303.3 L484,303.4 L491,303.5 L498,303.5 L505,303.6 L512,303.6 L519,303.5 L526,303.5 L533,303.4 L540,303.4 L547,303.3 L554,303.2 L561,303.1 L568,303.1 L575,303.0 L582,303.0 L589,303.0 L596,302.9 L603,302.9 L610,303.0 L617,303.0 L624,303.0 L631,303.0 L638,303.0 L645,303.0 L652,303.0 L659,303.0 L666,302.9 L673,302.9 L680,302.8 L687,302.8 L694,302.7 L701,302.6 L708,302.6 L715,302.5 L722,302.5 L729,302.5 L736,302.5 L743,302.5 L750,302.6 L757,302.7 L764,302.8 L771,303.0 L778,303.1 L785,303.3 L792,303.5 L799,303.6 L806,303.7 L813,303.8 L820,303.9 L827,303.9 L834,303.9 L841,303.9 L848,303.8 L855,303.6 L862,303.5 L869,303.3 L869,314.7 L862,314.7 L855,314.7 L848,314.8 L841,314.9 L834,315.0 L827,315.1 L820,315.2 L813,315.3 L806,315.5 L799,315.6 L792,315.7 L785,315.8 L778,315.8 L771,315.8 L764,315.8 L757,315.7 L750,315.6 L743,315.5 L736,315.3 L729,315.1 L722,314.9 L715,314.7 L708,314.5 L701,314.4 L694,314.2 L687,314.1 L680,314.0 L673,313.9 L666,313.9 L659,314.0 L652,314.1 L645,314.2 L638,314.4 L631,314.6 L624,314.8 L617,315.0 L610,315.3 L603,315.5 L596,315.7 L589,315.8 L582,315.9 L575,316.0 L568,316.1 L561,316.0 L554,316.0 L547,315.9 L540,315.8 L533,315.6 L526,315.4 L519,315.2 L512,315.0 L505,314.8 L498,314.7 L491,314.5 L484,314.4 L477,314.3 L470,314.2 L463,314.2 L456,314.2 L449,314.3 L442,314.4 L435,314.5 L428,314.6 L421,314.7 L414,314.8 L407,314.9 L400,315.0 L393,315.1 L386,315.2 L379,315.3 L372,315.3 L365,315.3 L358,315.3 L351,315.3 L344,315.2 L337,315.2 L330,315.2 L323,315.1 L316,315.1 L309,315.1 L302,315.1 L295,315.1 L288,315.1 L281,315.1 L274,315.2 L267,315.2 L260,315.2 L253,315.3 L246,315.3 L239,315.3 L232,315.2 L225,315.2 L218,315.2 L211,315.1 L204,315.0 L197,314.9 L190,314.8 L183,314.6 L176,314.5 L169,314.4 L162,314.3 L155,314.3 L148,314.3 L141,314.3 L134,314.3 L127,314.4 L120,314.5 L113,314.6 L106,314.8 L99,314.9 L92,315.1 L85,315.3Z" fill="#fff" fill-opacity="0.403"/>
<path d="M85,320.1 L92,320.1 L99,320.1 L106,320.1 L113,320.1 L120,320.1 L127,320.1 L134,320.1 L141,320.1 L148,320.1 L155,320.1 L162,320.1 L169,320.1 L176,320.1 L183,320.1 L190,320.1 L197,320.1 L204,320.1 L211,320.1 L218,320.1 L225,320.1 L232,320.1 L239,320.1 L246,320.1 L253,320.1 L260,320.1 L267,320.1 L274,320.1 L281,320.1 L288,320.1 L295,320.1 L302,320.1 L309,320.1 L316,320.1 L323,320.1 L330,320.1 L337,320.1 L344,320.1 L351,320.1 L358,320.1 L365,320.1 L372,320.1 L379,320.1 L386,320.1 L393,320.1 L400,320.1 L407,320.1 L414,320.1 L421,320.1 L428,320.1 L435,320.1 L442,320.1 L449,320.1 L456,320.1 L463,320.1 L470,320.1 L477,320.1 L484,320.1 L491,320.1 L498,320.1 L505,320.1 L512,320.1 L519,320.1 L526,320.1 L533,320.1 L540,320.1 L547,320.1 L554,320.1 L561,320.1 L568,320.1 L575,320.1 L582,320.1 L589,320.1 L596,320.1 L603,320.1 L610,320.1 L617,320.1 L624,320.1 L631,320.1 L638,320.1 L645,320.1 L652,320.1 L659,320.1 L666,320.1 L673,320.1 L680,320.1 L687,320.1 L694,320.1 L701,320.1 L708,320.1 L715,320.1 L722,320.1 L729,320.1 L736,320.1 L743,320.1 L750,320.1 L757,320.1 L764,320.1 L771,320.1 L778,320.1 L785,320.1 L792,320.1 L799,320.1 L806,320.1 L813,320.1 L820,320.1 L827,320.1 L834,320.1 L841,320.1 L848,320.1 L855,320.1 L862,320.1 L869,320.1 L869,325.1 L862,325.1 L855,325.1 L848,325.1 L841,325.1 L834,325.1 L827,325.1 L820,325.1 L813,325.1 L806,325.1 L799,325.1 L792,325.1 L785,325.1 L778,325.1 L771,325.1 L764,325.1 L757,325.1 L750,325.1 L743,325.1 L736,325.1 L729,325.1 L722,325.1 L715,325.1 L708,325.1 L701,325.1 L694,325.1 L687,325.1 L680,325.1 L673,325.1 L666,325.1 L659,325.1 L652,325.1 L645,325.1 L638,325.1 L631,325.1 L624,325.1 L617,325.1 L610,325.1 L603,325.1 L596,325.1 L589,325.1 L582,325.1 L575,325.1 L568,325.1 L561,325.1 L554,325.1 L547,325.1 L540,325.1 L533,325.1 L526,325.1 L519,325.1 L512,325.1 L505,325.1 L498,325.1 L491,325.1 L484,325.1 L477,325.1 L470,325.1 L463,325.1 L456,325.1 L449,325.1 L442,325.1 L435,325.1 L428,325.1 L421,325.1 L414,325.1 L407,325.1 L400,325.1 L393,325.1 L386,325.1 L379,325.1 L372,325.1 L365,325.1 L358,325.1 L351,325.1 L344,325.1 L337,325.1 L330,325.1 L323,325.1 L316,325.1 L309,325.1 L302,325.1 L295,325.1 L288,325.1 L281,325.1 L274,325.1 L267,325.1 L260,325.1 L253,325.1 L246,325.1 L239,325.1 L232,325.1 L225,325.1 L218,325.1 L211,325.1 L204,325.1 L197,325.1 L190,325.1 L183,325.1 L176,325.1 L169,325.1 L162,325.1 L155,325.1 L148,325.1 L141,325.1 L134,325.1 L127,325.1 L120,325.1 L113,325.1 L106,325.1 L99,325.1 L92,325.1 L85,325.1Z" fill="#000" fill-opacity="0.358"/>
<path d="M85,331.9 L92,331.8 L99,331.8 L106,331.7 L113,331.7 L120,331.6 L127,331.6 L134,331.6 L141,331.5 L148,331.5 L155,331.5 L162,331.5 L169,331.5 L176,331.5 L183,331.5 L190,331.5 L197,331.5 L204,331.5 L211,331.5 L218,331.6 L225,331.6 L232,331.6 L239,331.7 L246,331.7 L253,331.8 L260,331.8 L267,331.8 L274,331.9 L281,331.9 L288,332.0 L295,332.0 L302,332.0 L309,332.0 L316,332.0 L323,332.0 L330,332.0 L337,332.0 L344,332.0 L351,332.0 L358,332.0 L365,332.0 L372,331.9 L379,331.9 L386,331.9 L393,331.8 L400,331.8 L407,331.7 L414,331.7 L421,331.6 L428,331.6 L435,331.6 L442,331.5 L449,331.5 L456,331.5 L463,331.5 L470,331.5 L477,331.5 L484,331.5 L491,331.5 L498,331.5 L505,331.5 L512,331.5 L519,331.6 L526,331.6 L533,331.6 L540,331.7 L547,331.7 L554,331.8 L561,331.8 L568,331.8 L575,331.9 L582,331.9 L589,332.0 L596,332.0 L603,332.0 L610,332.0 L617,332.0 L624,332.0 L631,332.0 L638,332.0 L645,332.0 L652,332.0 L659,332.0 L666,332.0 L673,331.9 L680,331.9 L687,331.8 L694,331.8 L701,331.8 L708,331.7 L715,331.7 L722,331.6 L729,331.6 L736,331.6 L743,331.5 L750,331.5 L757,331.5 L764,331.5 L771,331.5 L778,331.5 L785,331.5 L792,331.5 L799,331.5 L806,331.5 L813,331.5 L820,331.6 L827,331.6 L834,331.6 L841,331.7 L848,331.7 L855,331.8 L862,331.8 L869,331.9 L869,339.4 L862,339.3 L855,339.3 L848,339.2 L841,339.2 L834,339.1 L827,339.1 L820,339.1 L813,339.0 L806,339.0 L799,339.0 L792,339.0 L785,339.0 L778,339.0 L771,339.0 L764,339.0 L757,339.0 L750,339.0 L743,339.0 L736,339.1 L729,339.1 L722,339.1 L715,339.2 L708,339.2 L701,339.3 L694,339.3 L687,339.3 L680,339.4 L673,339.4 L666,339.5 L659,339.5 L652,339.5 L645,339.5 L638,339.5 L631,339.5 L624,339.5 L617,339.5 L610,339.5 L603,339.5 L596,339.5 L589,339.5 L582,339.4 L575,339.4 L568,339.3 L561,339.3 L554,339.3 L547,339.2 L540,339.2 L533,339.1 L526,339.1 L519,339.1 L512,339.0 L505,339.0 L498,339.0 L491,339.0 L484,339.0 L477,339.0 L470,339.0 L463,339.0 L456,339.0 L449,339.0 L442,339.0 L435,339.1 L428,339.1 L421,339.1 L414,339.2 L407,339.2 L400,339.3 L393,339.3 L386,339.4 L379,339.4 L372,339.4 L365,339.5 L358,339.5 L351,339.5 L344,339.5 L337,339.5 L330,339.5 L323,339.5 L316,339.5 L309,339.5 L302,339.5 L295,339.5 L288,339.5 L281,339.4 L274,339.4 L267,339.3 L260,339.3 L253,339.3 L246,339.2 L239,339.2 L232,339.1 L225,339.1 L218,339.1 L211,339.0 L204,339.0 L197,339.0 L190,339.0 L183,339.0 L176,339.0 L169,339.0 L162,339.0 L155,339.0 L148,339.0 L141,339.0 L134,339.1 L127,339.1 L120,339.1 L113,339.2 L106,339.2 L99,339.3 L92,339.3 L85,339.4Z" fill="#fff" fill-opacity="0.731"/>
<path d="M85,345.9 L92,345.9 L99,345.9 L106,345.9 L113,345.9 L120,345.9 L127,345.9 L134,345.9 L141,345.9 L148,345.9 L155,345.9 L162,345.9 L169,345.9 L176,345.9 L183,345.9 L190,345.9 L197,345.9 L204,345.9 L211,345.9 L218,345.9 L225,345.9 L232,345.9 L239,345.9 L246,345.9 L253,345.9 L260,345.9 L267,345.9 L274,345.9 L281,345.9 L288,345.9 L295,345.9 L302,345.9 L309,345.9 L316,345.9 L323,345.9 L330,345.9 L337,345.9 L344,345.9 L351,345.9 L358,345.9 L365,345.9 L372,345.9 L379,345.9 L386,345.9 L393,345.9 L400,345.9 L407,345.9 L414,345.9 L421,345.9 L428,345.9 L435,345.9 L442,345.9 L449,345.9 L456,345.9 L463,345.9 L470,345.9 L477,345.9 L484,345.9 L491,345.9 L498,345.9 L505,345.9 L512,345.9 L519,345.9 L526,345.9 L533,345.9 L540,345.9 L547,345.9 L554,345.9 L561,345.9 L568,345.9 L575,345.9 L582,345.9 L589,345.9 L596,345.9 L603,345.9 L610,345.9 L617,345.9 L624,345.9 L631,345.9 L638,345.9 L645,345.9 L652,345.9 L659,345.9 L666,345.9 L673,345.9 L680,345.9 L687,345.9 L694,345.9 L701,345.9 L708,345.9 L715,345.9 L722,345.9 L729,345.9 L736,345.9 L743,345.9 L750,345.9 L757,345.9 L764,345.9 L771,345.9 L778,345.9 L785,345.9 L792,345.9 L799,345.9 L806,345.9 L813,345.9 L820,345.9 L827,345.9 L834,345.9 L841,345.9 L848,345.9 L855,345.9 L862,345.9 L869,345.9 L869,350.9 L862,350.9 L855,350.9 L848,350.9 L841,350.9 L834,350.9 L827,350.9 L820,350.9 L813,350.9 L806,350.9 L799,350.9 L792,350.9 L785,350.9 L778,350.9 L771,350.9 L764,350.9 L757,350.9 L750,350.9 L743,350.9 L736,350.9 L729,350.9 L722,350.9 L715,350.9 L708,350.9 L701,350.9 L694,350.9 L687,350.9 L680,350.9 L673,350.9 L666,350.9 L659,350.9 L652,350.9 L645,350.9 L638,350.9 L631,350.9 L624,350.9 L617,350.9 L610,350.9 L603,350.9 L596,350.9 L589,350.9 L582,350.9 L575,350.9 L568,350.9 L561,350.9 L554,350.9 L547,350.9 L540,350.9 L533,350.9 L526,350.9 L519,350.9 L512,350.9 L505,350.9 L498,350.9 L491,350.9 L484,350.9 L477,350.9 L470,350.9 L463,350.9 L456,350.9 L449,350.9 L442,350.9 L435,350.9 L428,350.9 L421,350.9 L414,350.9 L407,350.9 L400,350.9 L393,350.9 L386,350.9 L379,350.9 L372,350.9 L365,350.9 L358,350.9 L351,350.9 L344,350.9 L337,350.9 L330,350.9 L323,350.9 L316,350.9 L309,350.9 L302,350.9 L295,350.9 L288,350.9 L281,350.9 L274,350.9 L267,350.9 L260,350.9 L253,350.9 L246,350.9 L239,350.9 L232,350.9 L225,350.9 L218,350.9 L211,350.9 L204,350.9 L197,350.9 L190,350.9 L183,350.9 L176,350.9 L169,350.9 L162,350.9 L155,350.9 L148,350.9 L141,350.9 L134,350.9 L127,350.9 L120,350.9 L113,350.9 L106,350.9 L99,350.9 L92,350.9 L85,350.9Z" fill="#000" fill-opacity="0.358"/>
<path d="M85,355.3 L92,355.5 L99,355.6 L106,355.7 L113,355.8 L120,355.9 L127,355.9 L134,355.9 L141,355.9 L148,355.8 L155,355.8 L162,355.7 L169,355.6 L176,355.5 L183,355.4 L190,355.3 L197,355.2 L204,355.1 L211,355.0 L218,354.9 L225,354.9 L232,354.8 L239,354.8 L246,354.8 L253,354.8 L260,354.9 L267,354.9 L274,354.9 L281,355.0 L288,355.0 L295,355.1 L302,355.1 L309,355.1 L316,355.2 L323,355.2 L330,355.2 L337,355.2 L344,355.2 L351,355.2 L358,355.2 L365,355.2 L372,355.2 L379,355.2 L386,355.2 L393,355.2 L400,355.2 L407,355.3 L414,355.3 L421,355.4 L428,355.4 L435,355.4 L442,355.5 L449,355.5 L456,355.6 L463,355.6 L470,355.6 L477,355.6 L484,355.5 L491,355.5 L498,355.4 L505,355.3 L512,355.3 L519,355.2 L526,355.1 L533,354.9 L540,354.8 L547,354.7 L554,354.6 L561,354.6 L568,354.5 L575,354.5 L582,354.5 L589,354.5 L596,354.6 L603,354.7 L610,354.8 L617,354.9 L624,355.1 L631,355.2 L638,355.4 L645,355.5 L652,355.7 L659,355.8 L666,356.0 L673,356.1 L680,356.1 L687,356.1 L694,356.1 L701,356.1 L708,356.0 L715,355.9 L722,355.8 L729,355.6 L736,355.4 L743,355.2 L750,355.0 L757,354.8 L764,354.6 L771,354.5 L778,354.3 L785,354.2 L792,354.1 L799,354.1 L806,354.1 L813,354.2 L820,354.3 L827,354.4 L834,354.6 L841,354.8 L848,355.0 L855,355.2 L862,355.4 L869,355.6 L869,367.2 L862,367.2 L855,367.2 L848,367.2 L841,367.2 L834,367.2 L827,367.2 L820,367.2 L813,367.2 L806,367.1 L799,367.1 L792,367.1 L785,367.0 L778,367.0 L771,366.9 L764,366.9 L757,366.8 L750,366.8 L743,366.8 L736,366.8 L729,366.8 L722,366.9 L715,366.9 L708,367.0 L701,367.1 L694,367.2 L687,367.3 L680,367.4 L673,367.5 L666,367.6 L659,367.7 L652,367.8 L645,367.9 L638,367.9 L631,367.9 L624,367.9 L617,367.8 L610,367.8 L603,367.7 L596,367.5 L589,367.4 L582,367.2 L575,367.1 L568,366.9 L561,366.7 L554,366.6 L547,366.5 L540,366.4 L533,366.3 L526,366.3 L519,366.2 L512,366.3 L505,366.3 L498,366.5 L491,366.6 L484,366.8 L477,366.9 L470,367.1 L463,367.3 L456,367.5 L449,367.7 L442,367.9 L435,368.0 L428,368.2 L421,368.2 L414,368.3 L407,368.3 L400,368.2 L393,368.2 L386,368.0 L379,367.9 L372,367.7 L365,367.5 L358,367.3 L351,367.1 L344,366.9 L337,366.7 L330,366.5 L323,366.3 L316,366.2 L309,366.2 L302,366.1 L295,366.1 L288,366.2 L281,366.3 L274,366.4 L267,366.5 L260,366.7 L253,366.9 L246,367.1 L239,367.3 L232,367.5 L225,367.7 L218,367.8 L211,368.0 L204,368.1 L197,368.1 L190,368.1 L183,368.1 L176,368.1 L169,368.0 L162,367.9 L155,367.8 L148,367.6 L141,367.5 L134,367.3 L127,367.1 L120,367.0 L113,366.8 L106,366.7 L99,366.6 L92,366.5 L85,366.5Z" fill="#fff" fill-opacity="0.403"/>
</g></g>
<rect x="97.5" y="296.4" width="757.2" height="77.80000000000001" fill="none" stroke="#b4b4b4" stroke-width="1"/>
<line x1="106.9" y1="460" x2="106.9" y2="890.3" stroke="#000" stroke-width="2"/>
<line x1="105.9" y1="889.4" x2="584" y2="889.4" stroke="#000" stroke-width="2.2"/>
<line x1="106.9" y1="880.6" x2="111.4" y2="880.6" stroke="#000" stroke-width="1.4"/>
<line x1="106.9" y1="864.2" x2="109.5" y2="864.2" stroke="#000" stroke-width="1.4"/>
<line x1="106.9" y1="847.8" x2="109.5" y2="847.8" stroke="#000" stroke-width="1.4"/>
<line x1="106.9" y1="831.4" x2="109.5" y2="831.4" stroke="#000" stroke-width="1.4"/>
<line x1="106.9" y1="815.0" x2="111.4" y2="815.0" stroke="#000" stroke-width="1.4"/>
<line x1="106.9" y1="798.6" x2="109.5" y2="798.6" stroke="#000" stroke-width="1.4"/>
<line x1="106.9" y1="782.2" x2="109.5" y2="782.2" stroke="#000" stroke-width="1.4"/>
<line x1="106.9" y1="765.8" x2="109.5" y2="765.8" stroke="#000" stroke-width="1.4"/>
<line x1="106.9" y1="749.4" x2="111.4" y2="749.4" stroke="#000" stroke-width="1.4"/>
<line x1="106.9" y1="733.0" x2="109.5" y2="733.0" stroke="#000" stroke-width="1.4"/>
<line x1="106.9" y1="716.6" x2="109.5" y2="716.6" stroke="#000" stroke-width="1.4"/>
<line x1="106.9" y1="700.2" x2="109.5" y2="700.2" stroke="#000" stroke-width="1.4"/>
<line x1="106.9" y1="683.8" x2="111.4" y2="683.8" stroke="#000" stroke-width="1.4"/>
<line x1="106.9" y1="667.4" x2="109.5" y2="667.4" stroke="#000" stroke-width="1.4"/>
<line x1="106.9" y1="651.0" x2="109.5" y2="651.0" stroke="#000" stroke-width="1.4"/>
<line x1="106.9" y1="634.6" x2="109.5" y2="634.6" stroke="#000" stroke-width="1.4"/>
<line x1="106.9" y1="618.2" x2="111.4" y2="618.2" stroke="#000" stroke-width="1.4"/>
<line x1="106.9" y1="601.8" x2="109.5" y2="601.8" stroke="#000" stroke-width="1.4"/>
<line x1="106.9" y1="585.4" x2="109.5" y2="585.4" stroke="#000" stroke-width="1.4"/>
<line x1="106.9" y1="569.0" x2="109.5" y2="569.0" stroke="#000" stroke-width="1.4"/>
<line x1="106.9" y1="552.6" x2="111.4" y2="552.6" stroke="#000" stroke-width="1.4"/>
<line x1="106.9" y1="536.2" x2="109.5" y2="536.2" stroke="#000" stroke-width="1.4"/>
<line x1="106.9" y1="519.8" x2="109.5" y2="519.8" stroke="#000" stroke-width="1.4"/>
<line x1="106.9" y1="503.4" x2="109.5" y2="503.4" stroke="#000" stroke-width="1.4"/>
<line x1="106.9" y1="487.0" x2="111.4" y2="487.0" stroke="#000" stroke-width="1.4"/>
<line x1="106.9" y1="470.6" x2="109.5" y2="470.6" stroke="#000" stroke-width="1.4"/>
<line x1="119.6" y1="889" x2="119.6" y2="886.4" stroke="#000" stroke-width="1.4"/>
<line x1="132.3" y1="889" x2="132.3" y2="886.4" stroke="#000" stroke-width="1.4"/>
<line x1="145.0" y1="889" x2="145.0" y2="886.4" stroke="#000" stroke-width="1.4"/>
<line x1="157.7" y1="889" x2="157.7" y2="886.4" stroke="#000" stroke-width="1.4"/>
<line x1="170.4" y1="889" x2="170.4" y2="884.5" stroke="#000" stroke-width="1.4"/>
<line x1="183.0" y1="889" x2="183.0" y2="886.4" stroke="#000" stroke-width="1.4"/>
<line x1="195.7" y1="889" x2="195.7" y2="886.4" stroke="#000" stroke-width="1.4"/>
<line x1="208.4" y1="889" x2="208.4" y2="886.4" stroke="#000" stroke-width="1.4"/>
<line x1="221.1" y1="889" x2="221.1" y2="886.4" stroke="#000" stroke-width="1.4"/>
<line x1="233.8" y1="889" x2="233.8" y2="884.5" stroke="#000" stroke-width="1.4"/>
<line x1="246.5" y1="889" x2="246.5" y2="886.4" stroke="#000" stroke-width="1.4"/>
<line x1="259.2" y1="889" x2="259.2" y2="886.4" stroke="#000" stroke-width="1.4"/>
<line x1="271.9" y1="889" x2="271.9" y2="886.4" stroke="#000" stroke-width="1.4"/>
<line x1="284.6" y1="889" x2="284.6" y2="886.4" stroke="#000" stroke-width="1.4"/>
<line x1="297.2" y1="889" x2="297.2" y2="884.5" stroke="#000" stroke-width="1.4"/>
<line x1="309.9" y1="889" x2="309.9" y2="886.4" stroke="#000" stroke-width="1.4"/>
<line x1="322.6" y1="889" x2="322.6" y2="886.4" stroke="#000" stroke-width="1.4"/>
<line x1="335.3" y1="889" x2="335.3" y2="886.4" stroke="#000" stroke-width="1.4"/>
<line x1="348.0" y1="889" x2="348.0" y2="886.4" stroke="#000" stroke-width="1.4"/>
<line x1="360.7" y1="889" x2="360.7" y2="884.5" stroke="#000" stroke-width="1.4"/>
<line x1="373.4" y1="889" x2="373.4" y2="886.4" stroke="#000" stroke-width="1.4"/>
<line x1="386.1" y1="889" x2="386.1" y2="886.4" stroke="#000" stroke-width="1.4"/>
<line x1="398.8" y1="889" x2="398.8" y2="886.4" stroke="#000" stroke-width="1.4"/>
<line x1="411.5" y1="889" x2="411.5" y2="886.4" stroke="#000" stroke-width="1.4"/>
<line x1="424.1" y1="889" x2="424.1" y2="884.5" stroke="#000" stroke-width="1.4"/>
<line x1="436.8" y1="889" x2="436.8" y2="886.4" stroke="#000" stroke-width="1.4"/>
<line x1="449.5" y1="889" x2="449.5" y2="886.4" stroke="#000" stroke-width="1.4"/>
<line x1="462.2" y1="889" x2="462.2" y2="886.4" stroke="#000" stroke-width="1.4"/>
<line x1="474.9" y1="889" x2="474.9" y2="886.4" stroke="#000" stroke-width="1.4"/>
<line x1="487.6" y1="889" x2="487.6" y2="884.5" stroke="#000" stroke-width="1.4"/>
<line x1="500.3" y1="889" x2="500.3" y2="886.4" stroke="#000" stroke-width="1.4"/>
<line x1="513.0" y1="889" x2="513.0" y2="886.4" stroke="#000" stroke-width="1.4"/>
<line x1="525.7" y1="889" x2="525.7" y2="886.4" stroke="#000" stroke-width="1.4"/>
<line x1="538.4" y1="889" x2="538.4" y2="886.4" stroke="#000" stroke-width="1.4"/>
<line x1="551.1" y1="889" x2="551.1" y2="884.5" stroke="#000" stroke-width="1.4"/>
<line x1="563.7" y1="889" x2="563.7" y2="886.4" stroke="#000" stroke-width="1.4"/>
<line x1="576.4" y1="889" x2="576.4" y2="886.4" stroke="#000" stroke-width="1.4"/>
<text x="61.44" y="495.78" font-size="30.93" style="font-family:'Liberation Sans'" textLength="35.36" lengthAdjust="spacingAndGlyphs" > 2</text><path transform="translate(61.44,495.78) scale(0.01552,-0.01510)" d="M515,0L515,1237L197,1010L197,1180L530,1409L696,1409L696,0Z" fill="#000"/>
<text x="61.48" y="563.30" font-size="30.93" style="font-family:'Liberation Sans'" textLength="34.95" lengthAdjust="spacingAndGlyphs" > 0</text><path transform="translate(61.48,563.30) scale(0.01534,-0.01510)" d="M515,0L515,1237L197,1010L197,1180L530,1409L696,1409L696,0Z" fill="#000"/>
<text x="78.37" y="630.82" font-size="30.93" style="font-family:'Liberation Sans'" textLength="18.25" lengthAdjust="spacingAndGlyphs" >8</text>
<text x="77.88" y="698.34" font-size="30.93" style="font-family:'Liberation Sans'" textLength="18.80" lengthAdjust="spacingAndGlyphs" >6</text>
<text x="78.47" y="765.86" font-size="31.40" style="font-family:'Liberation Sans'" textLength="17.66" lengthAdjust="spacingAndGlyphs" >4</text>
<text x="77.99" y="833.38" font-size="30.93" style="font-family:'Liberation Sans'" textLength="18.92" lengthAdjust="spacingAndGlyphs" >2</text>
<text x="78.54" y="900.90" font-size="30.93" style="font-family:'Liberation Sans'" textLength="17.92" lengthAdjust="spacingAndGlyphs" >0</text>
<text x="99.85" y="924.61" font-size="29.66" style="font-family:'Liberation Sans'" textLength="17.80" lengthAdjust="spacingAndGlyphs" >0</text>
<path transform="translate(162.93,924.60) scale(0.01864,-0.01469)" d="M515,0L515,1237L197,1010L197,1180L530,1409L696,1409L696,0Z" fill="#000"/>
<text x="224.34" y="924.60" font-size="29.65" style="font-family:'Liberation Sans'" textLength="19.41" lengthAdjust="spacingAndGlyphs" >2</text>
<text x="288.29" y="924.31" font-size="29.24" style="font-family:'Liberation Sans'" textLength="17.71" lengthAdjust="spacingAndGlyphs" >3</text>
<text x="351.70" y="924.60" font-size="30.09" style="font-family:'Liberation Sans'" >4</text>
<text x="413.72" y="924.31" font-size="29.67" style="font-family:'Liberation Sans'" textLength="17.83" lengthAdjust="spacingAndGlyphs" >5</text>
<text x="475.85" y="924.61" font-size="29.66" style="font-family:'Liberation Sans'" textLength="19.16" lengthAdjust="spacingAndGlyphs" >6</text>
<text x="538.49" y="924.60" font-size="30.09" style="font-family:'Liberation Sans'" textLength="18.60" lengthAdjust="spacingAndGlyphs" >7</text>
<line x1="107.4" y1="880.7" x2="585" y2="458.5" stroke="#5e81b5" stroke-width="1.7" stroke-dasharray="6.5,3.5"/>
<circle cx="170.1" cy="822.1" r="10.5" fill="#5e81b5"/>
<circle cx="233.9" cy="782" r="10.5" fill="#5e81b5"/>
<circle cx="297.3" cy="731.7" r="10.5" fill="#5e81b5"/>
<circle cx="360.8" cy="673.5" r="10.5" fill="#5e81b5"/>
<circle cx="424.4" cy="607.1" r="10.5" fill="#5e81b5"/>
<circle cx="488" cy="530" r="10.5" fill="#5e81b5"/>
<circle cx="551.3" cy="484.8" r="10.5" fill="#5e81b5"/>
<circle cx="346.8" cy="810.5" r="11" fill="#5e81b5"/>
<line x1="329.5" y1="852" x2="366" y2="852" stroke="#5e81b5" stroke-width="1.6" stroke-dasharray="5.5,2.5"/>
<text x="378.23" y="820.00" font-size="30.50" style="font-family:'Liberation Sans'" textLength="139.29" lengthAdjust="spacingAndGlyphs" >Measured</text>
<text x="378.24" y="859.56" font-size="29.61" style="font-family:'Liberation Sans'" textLength="161.24" lengthAdjust="spacingAndGlyphs" >Fitted slope</text>
<path d="M554.4,850.6 C556.5,846.5 558,846 560,846 C563,846.3 565,851.2 568.5,851.2 C571,851.2 572.5,849 574.2,846.2" fill="none" stroke="#000" stroke-width="1.7"/>
<rect x="554.4" y="856.60" width="19.80" height="1.6" fill="#000"/>
<text x="587.62" y="860.00" font-size="31.98" style="font-family:'Liberation Sans'" > .7 </text><path transform="translate(587.62,860.00) scale(0.01563,-0.01561)" d="M515,0L515,1237L197,1010L197,1180L530,1409L696,1409L696,0Z" fill="#000"/><path transform="translate(632.12,860.00) scale(0.01563,-0.01561)" d="M515,0L515,1237L197,1010L197,1180L530,1409L696,1409L696,0Z" fill="#000"/>
<g transform="translate(222.40,951.40) scale(0.9627,0.9682)"><path d="M0,21.9L3.2,21.9L10,9.6L8.1,8.2Z" fill="#000"/><path d="M5.3,4.1C5.6,1.3 6.8,0.2 8,0.2C9.4,0.3 9.7,2.5 9.7,5L9.5,18C9.5,21 10.6,21.9 11.4,21.9C12.4,21.9 13,20.6 13.3,19.2" fill="none" stroke="#000" stroke-width="1.3"/></g>
<text x="236.06" y="979.09" font-size="21.51" style="font-family:'Liberation Sans'" textLength="39.46" lengthAdjust="spacingAndGlyphs" >und</text>
<text x="274.94" y="972.89" font-size="31.73" style="font-family:'Liberation Sans'" >/</text>
<g transform="translate(285.80,951.40) scale(0.9627,0.9682)"><path d="M0,21.9L3.2,21.9L10,9.6L8.1,8.2Z" fill="#000"/><path d="M5.3,4.1C5.6,1.3 6.8,0.2 8,0.2C9.4,0.3 9.7,2.5 9.7,5L9.5,18C9.5,21 10.6,21.9 11.4,21.9C12.4,21.9 13,20.6 13.3,19.2" fill="none" stroke="#000" stroke-width="1.3"/></g>
<text x="299.12" y="979.79" font-size="21.61" style="font-family:'Liberation Sans'" textLength="12.57" lengthAdjust="spacingAndGlyphs" >0</text>
<text x="320.66" y="972.31" font-size="31.76" style="font-family:'Liberation Sans'" textLength="149.38" lengthAdjust="spacingAndGlyphs" >(predicted)</text>
<g transform="rotate(-90) translate(-803.30,5.50) scale(0.9478,0.9091)"><path d="M0,21.9L3.2,21.9L10,9.6L8.1,8.2Z" fill="#000"/><path d="M5.3,4.1C5.6,1.3 6.8,0.2 8,0.2C9.4,0.3 9.7,2.5 9.7,5L9.5,18C9.5,21 10.6,21.9 11.4,21.9C12.4,21.9 13,20.6 13.3,19.2" fill="none" stroke="#000" stroke-width="1.3"/></g>
<text transform="rotate(-90)" x="-789.58" y="35.00" font-size="20.70" style="font-family:'Liberation Sans'" textLength="35.45" lengthAdjust="spacingAndGlyphs" >und</text>
<text transform="rotate(-90)" x="-752.16" y="25.72" font-size="28.87" style="font-family:'Liberation Sans'" >/</text>
<g transform="rotate(-90) translate(-740.90,5.50) scale(0.8582,0.9091)"><path d="M0,21.9L3.2,21.9L10,9.6L8.1,8.2Z" fill="#000"/><path d="M5.3,4.1C5.6,1.3 6.8,0.2 8,0.2C9.4,0.3 9.7,2.5 9.7,5L9.5,18C9.5,21 10.6,21.9 11.4,21.9C12.4,21.9 13,20.6 13.3,19.2" fill="none" stroke="#000" stroke-width="1.3"/></g>
<text transform="rotate(-90)" x="-728.69" y="34.99" font-size="21.47" style="font-family:'Liberation Sans'" textLength="15.59" lengthAdjust="spacingAndGlyphs" >0</text>
<text transform="rotate(-90)" x="-703.92" y="26.90" font-size="30.91" style="font-family:'Liberation Sans'" >(measured)</text>
<filter id="cmap2" x="0" y="0" width="1" height="1" color-interpolation-filters="sRGB">
<feGaussianBlur stdDeviation="1.5"/>
<feComponentTransfer>
<feFuncR type="table" tableValues="0.97 0.06"/>
<feFuncG type="table" tableValues="0.03 0.03"/>
<feFuncB type="table" tableValues="0.16 0.93"/>
</feComponentTransfer></filter>
<filter id="mblur" x="-0.2" y="-0.2" width="1.4" height="1.4"><feGaussianBlur stdDeviation="3"/></filter>
<filter id="mblur2" x="-0.2" y="-0.2" width="1.4" height="1.4"><feGaussianBlur stdDeviation="6"/></filter>
<clipPath id="cc"><circle cx="782.9" cy="681.0" r="160.9"/></clipPath>
<radialGradient id="bg1"><stop offset="0" stop-color="#000" stop-opacity="0.9"/><stop offset="1" stop-color="#000" stop-opacity="0"/></radialGradient>
<radialGradient id="bg2"><stop offset="0" stop-color="#fff" stop-opacity="0.2"/><stop offset="1" stop-color="#fff" stop-opacity="0"/></radialGradient>

<mask id="mi" maskUnits="userSpaceOnUse" x="600" y="500" width="360" height="360"><g filter="url(#mblur)">
<path d="M766.5,791.6 764.5,791.8 741.0,785.7 717.5,774.7 698.8,759.1 683.0,737.1 676.9,717.6 668.6,686.6 666.0,653.1 666.1,651.1 674.6,619.1 696.4,595.6 724.5,584.0 728.5,583.1 784.5,573.8 801.5,577.4 830.5,582.2 851.7,588.1 864.5,603.4 877.8,625.6 887.1,649.1 890.5,673.6 890.5,688.1 888.2,695.6 880.2,708.6 864.8,725.6 849.4,746.1 836.4,766.1 824.5,775.8 821.0,778.2 798.5,787.2 766.5,791.6Z" fill="#3a3a3a"/><path d="M767.5,807.3 762.0,807.5 737.0,801.0 712.5,789.8 708.2,787.6 686.0,768.4 669.3,745.1 661.6,721.6 661.5,712.1 663.1,689.1 672.8,673.1 701.3,630.1 722.0,601.2 740.0,574.8 743.5,571.9 757.5,563.4 760.0,562.2 767.5,560.7 781.5,558.2 787.0,558.1 805.0,562.1 834.0,566.7 860.5,574.2 877.7,594.6 892.7,619.6 902.4,644.6 906.0,670.1 906.0,691.6 902.9,701.6 893.2,717.6 877.0,735.5 862.0,755.5 849.0,775.9 831.3,790.6 829.0,792.0 802.5,802.5 767.5,807.3Z" fill="#000"/><path d="M765.5,788.6 742.0,782.8 719.5,772.3 701.0,756.9 685.7,735.6 680.0,717.1 681.2,695.6 716.3,641.6 754.0,587.8 756.0,586.4 766.5,580.1 784.5,576.9 801.0,580.4 830.0,585.2 850.0,590.8 861.9,605.1 875.2,627.1 884.2,650.1 887.5,674.1 887.5,687.6 885.3,694.6 877.8,706.6 862.5,723.6 846.7,744.6 834.0,764.1 820.5,775.0 797.5,784.2 765.5,788.6Z" fill="#fff"/></g></mask>
<mask id="mo" maskUnits="userSpaceOnUse" x="600" y="500" width="360" height="360"><g filter="url(#mblur2)"><path d="M770.0,821.2 759.5,821.3 729.5,813.2 700.9,799.6 680.5,782.7 675.9,778.1 657.8,753.1 654.3,745.6 647.6,722.6 648.5,691.1 650.6,682.6 661.0,665.5 689.8,622.1 729.9,565.1 736.0,560.0 755.0,549.1 779.5,544.3 788.0,544.1 841.5,554.1 865.5,561.1 869.0,562.9 872.0,565.5 889.2,586.6 904.9,612.6 915.5,639.6 916.8,645.1 919.9,668.6 920.0,692.6 915.5,707.9 904.7,725.6 888.5,743.7 873.5,763.7 860.4,784.1 855.5,789.2 836.2,804.1 809.0,815.1 802.0,816.9 770.0,821.2Z" fill="#fff"/></g></mask>
<g clip-path="url(#cc)"><g filter="url(#cmap2)">
<linearGradient id="bgl" x1="0.3" y1="0" x2="0.5" y2="1"><stop offset="0" stop-color="#4a4a4a"/><stop offset="0.55" stop-color="#666"/><stop offset="1" stop-color="#909090"/></linearGradient>
<rect x="612.0" y="510.1" width="341.8" height="341.8" fill="url(#bgl)"/>
<ellipse cx="950" cy="700" rx="90" ry="150" fill="url(#bg1)"/>
<ellipse cx="875" cy="545" rx="80" ry="65" fill="url(#bg1)" opacity="0.85"/>
<ellipse cx="795" cy="520" rx="60" ry="22" fill="url(#bg1)" opacity="0.55"/>
<ellipse cx="780" cy="850" rx="100" ry="45" fill="url(#bg2)"/>
<ellipse cx="905" cy="790" rx="55" ry="55" fill="url(#bg1)" opacity="0.6"/>
<ellipse cx="775" cy="690" rx="45" ry="40" fill="url(#bg1)"/>
<g mask="url(#mi)">
<path d="M778.3,698.6 781.0,696.4 787.1,686.1 787.8,683.1 787.1,680.6 785.0,678.9 780.5,677.9 767.0,676.4 764.0,677.2 762.7,678.6 762.0,680.6 763.0,684.4 773.1,697.1 775.5,698.6 778.3,698.6" fill="none" stroke="#fff" stroke-opacity="0.27" stroke-width="5.1" stroke-linejoin="round"/>
<path d="M778.9,703.1 781.5,701.9 784.0,699.6 791.2,687.6 792.3,682.6 791.2,678.1 788.5,675.0 784.5,673.2 767.0,671.4 762.0,672.5 759.2,675.1 757.6,678.6 757.4,682.6 758.6,686.1 766.2,696.6 770.5,701.3 774.5,703.3 778.9,703.1" fill="none" stroke="#000" stroke-opacity="0.30" stroke-width="6.2" stroke-linejoin="round"/>
<path d="M777.2,708.1 782.0,706.7 786.0,703.8 788.2,701.1 794.5,690.7 796.1,687.1 796.8,683.6 796.7,679.6 795.7,676.1 792.0,670.8 787.0,668.4 767.0,666.5 760.5,667.8 756.5,670.4 753.5,675.6 752.7,681.6 753.9,687.1 761.0,697.7 767.0,704.5 771.5,707.2 777.2,708.1" fill="none" stroke="#fff" stroke-opacity="0.27" stroke-width="5.1" stroke-linejoin="round"/>
<path d="M778.5,712.6 784.0,710.7 789.0,706.9 792.0,703.2 798.9,691.6 800.8,687.1 801.6,682.1 801.3,677.1 800.0,672.6 796.4,667.1 792.5,664.9 788.0,663.4 767.0,661.6 762.5,662.1 758.0,663.5 753.0,666.6 749.1,673.6 748.1,681.6 749.8,689.1 757.2,700.6 764.5,708.5 770.5,711.9 778.5,712.6" fill="none" stroke="#000" stroke-opacity="0.30" stroke-width="6.2" stroke-linejoin="round"/>
<path d="M779.1,717.1 785.0,715.4 791.5,710.5 795.5,705.7 803.0,693.3 805.3,687.6 806.4,681.1 806.2,675.1 804.6,669.1 802.6,665.6 800.0,663.1 794.5,660.1 789.0,658.5 783.0,657.5 767.0,656.7 761.5,657.3 756.0,659.0 749.0,663.1 744.8,671.1 743.7,675.6 743.4,680.6 744.0,685.6 745.4,690.6 747.7,695.1 753.1,703.1 758.0,709.1 761.5,712.2 769.0,716.3 774.0,717.2 779.1,717.1" fill="none" stroke="#fff" stroke-opacity="0.50" stroke-width="5.1" stroke-linejoin="round"/>
<path d="M779.7,721.6 786.8,719.6 793.5,714.6 798.7,708.6 806.2,696.6 809.2,690.1 811.0,683.1 811.5,675.6 810.5,668.6 807.5,663.3 804.0,659.3 798.2,656.1 791.5,653.8 783.5,652.5 767.5,651.8 760.5,652.6 754.0,654.4 748.5,657.1 745.0,659.6 740.6,668.1 739.0,674.1 738.7,679.6 739.4,686.1 741.1,692.1 743.7,697.6 749.0,705.6 754.3,712.1 758.5,715.8 763.5,719.0 768.0,720.9 773.5,721.7 779.7,721.6" fill="none" stroke="#000" stroke-opacity="0.55" stroke-width="6.2" stroke-linejoin="round"/>
<path d="M780.2,726.1 789.0,723.6 795.0,719.2 801.5,712.0 809.4,699.6 813.3,692.1 815.8,683.6 816.9,674.1 816.0,668.1 812.0,660.6 807.5,655.3 802.0,652.1 795.0,649.5 784.0,647.4 768.5,646.9 760.0,647.7 752.0,649.9 745.5,652.9 740.5,656.6 738.6,659.6 736.3,665.1 734.5,672.3 734.0,678.6 734.8,686.6 736.9,694.1 739.7,700.1 744.9,708.1 750.6,715.1 755.5,719.5 761.5,723.2 767.5,725.6 773.5,726.3 780.2,726.1" fill="none" stroke="#fff" stroke-opacity="0.50" stroke-width="5.1" stroke-linejoin="round"/>
<path d="M780.7,730.6 790.0,728.1 795.1,725.1 803.4,716.6 811.1,705.1 816.9,695.1 820.6,684.6 822.4,673.1 821.0,666.6 816.3,657.6 810.9,651.1 805.5,647.9 797.5,644.9 784.0,642.3 768.5,642.0 759.0,642.9 749.5,645.5 743.5,648.1 737.0,652.6 734.2,656.6 732.1,661.6 730.1,669.6 729.2,678.1 730.2,687.1 732.8,696.1 735.5,702.1 740.0,709.6 745.9,717.1 752.0,722.8 759.5,727.5 766.5,730.2 773.0,730.9 780.7,730.6" fill="none" stroke="#000" stroke-opacity="0.72" stroke-width="5.2" stroke-linejoin="round"/>
<path d="M780.0,735.1 787.0,733.7 795.8,730.1 803.6,723.1 810.1,715.1 820.0,698.6 825.1,686.6 827.9,674.1 826.1,665.6 820.9,655.1 814.1,646.6 809.5,643.9 801.5,640.8 792.0,638.4 781.0,637.1 763.5,637.4 749.0,640.4 742.0,643.2 733.6,648.6 731.3,651.1 728.2,657.1 725.5,667.6 724.5,677.1 725.4,686.6 727.7,695.6 730.7,703.1 735.2,711.1 742.0,719.9 749.0,726.6 757.0,731.6 764.6,734.6 770.0,735.5 780.0,735.1" fill="none" stroke="#fff" stroke-opacity="0.65" stroke-width="6.0" stroke-linejoin="round"/>
<path d="M774.5,740.1 785.5,738.8 796.0,735.0 800.5,732.0 808.7,724.1 814.5,716.6 825.4,697.6 830.5,686.1 833.3,676.1 831.7,666.6 828.9,659.1 824.5,651.1 817.0,641.9 811.5,639.0 802.0,635.6 784.0,632.0 767.0,632.2 756.5,633.5 743.0,637.2 735.0,641.4 729.2,645.6 725.1,651.6 722.3,658.6 720.1,671.1 720.2,682.6 721.5,690.1 723.7,698.1 729.3,710.6 736.8,721.1 745.8,730.1 756.5,736.7 766.5,740.0 774.5,740.1" fill="none" stroke="#000" stroke-opacity="0.72" stroke-width="5.2" stroke-linejoin="round"/>
<path d="M775.6,744.6 787.0,743.1 798.0,738.9 803.1,735.6 812.5,726.6 818.2,719.1 832.1,694.6 835.8,686.6 838.7,677.1 836.4,664.1 833.2,656.1 828.5,647.6 820.0,637.2 814.0,634.4 803.5,630.9 784.0,626.8 766.0,627.3 753.0,629.2 740.0,632.9 730.5,638.1 725.0,642.5 722.4,645.6 720.6,649.1 717.5,656.6 715.4,670.1 715.5,682.6 717.0,691.1 719.5,700.1 725.8,714.1 733.5,724.6 743.5,734.3 756.5,742.0 766.5,744.9 775.6,744.6" fill="none" stroke="#fff" stroke-opacity="0.65" stroke-width="6.0" stroke-linejoin="round"/>
<path d="M770.5,749.6 787.5,747.7 795.0,745.3 800.7,742.6 805.0,739.7 813.7,731.6 820.9,723.1 836.3,696.6 840.9,687.6 843.8,679.1 841.8,665.1 838.7,655.6 833.6,645.6 823.9,633.1 820.0,630.9 808.0,627.0 784.5,621.7 766.5,622.3 753.5,624.2 739.0,627.9 730.0,632.4 723.5,636.6 717.8,643.1 712.6,655.1 711.2,663.1 710.4,679.1 712.1,690.1 716.4,705.1 722.6,718.1 731.0,729.1 742.0,738.9 757.0,747.3 765.5,749.6 770.5,749.6" fill="none" stroke="#000" stroke-opacity="0.85" stroke-width="5.2" stroke-linejoin="round"/>
<path d="M771.1,754.1 789.0,752.2 797.5,749.4 804.5,745.6 818.0,733.6 824.5,725.8 832.1,711.6 843.0,694.7 846.7,687.1 848.9,680.1 846.7,664.1 843.5,654.0 838.0,642.6 832.5,634.7 827.5,628.8 824.5,626.8 816.5,624.1 798.5,619.4 784.0,616.4 764.5,617.6 747.0,620.6 736.5,623.5 723.0,630.6 718.2,634.6 712.9,641.1 707.6,654.1 706.3,662.6 705.8,680.1 707.6,691.1 712.2,707.1 718.4,720.6 727.5,732.4 739.5,742.7 752.0,750.2 756.5,752.2 765.5,754.4 771.1,754.1" fill="none" stroke="#fff" stroke-opacity="0.77" stroke-width="6.0" stroke-linejoin="round"/>
<path d="M767.7,759.1 792.5,756.3 799.5,753.9 806.5,749.8 822.2,735.6 826.5,730.8 835.5,714.1 847.0,697.6 851.7,688.6 853.6,683.1 853.9,679.6 852.3,666.6 850.3,657.6 844.8,644.1 841.0,637.6 833.2,626.6 828.0,622.2 821.0,619.9 785.0,611.2 776.5,611.5 762.0,613.0 739.0,617.5 729.5,621.2 718.0,627.6 710.0,636.1 708.0,639.1 702.0,655.6 701.0,670.1 701.1,681.1 705.3,700.6 708.2,709.6 713.1,721.1 723.5,735.2 735.5,745.6 753.5,756.0 761.0,758.4 767.7,759.1" fill="none" stroke="#000" stroke-opacity="0.85" stroke-width="5.2" stroke-linejoin="round"/>
<path d="M768.5,763.6 779.0,761.7 795.5,760.5 802.0,758.3 808.1,754.6 829.6,734.1 832.5,729.6 839.5,715.6 850.9,700.6 856.5,690.6 858.6,684.1 858.9,681.1 858.1,671.6 855.5,657.1 849.4,642.1 845.5,635.1 837.5,623.1 831.5,617.5 824.0,615.1 785.0,605.9 776.0,606.4 762.0,608.1 736.5,612.9 726.0,617.3 715.0,623.3 705.3,633.6 703.5,636.3 697.1,654.6 696.2,670.1 696.5,682.1 698.8,694.1 702.0,705.6 708.9,723.6 720.0,738.6 733.0,749.6 754.0,761.3 762.0,763.5 768.5,763.6" fill="none" stroke="#fff" stroke-opacity="0.77" stroke-width="6.0" stroke-linejoin="round"/>
<path d="M767.1,768.6 780.0,765.8 793.0,765.5 798.5,764.7 804.5,762.7 810.0,759.3 832.9,737.1 836.1,732.1 843.0,717.9 854.7,703.6 860.7,693.6 863.5,685.6 863.8,682.6 863.2,672.1 860.5,656.1 853.8,639.6 848.3,630.1 841.5,619.3 836.8,614.1 834.6,612.6 826.0,610.0 810.5,607.0 785.0,600.7 775.5,601.3 761.0,603.4 734.0,608.4 722.0,613.6 711.8,619.1 700.5,631.1 699.0,633.6 692.0,654.1 691.4,670.6 691.8,682.6 694.5,695.6 697.5,706.6 704.5,725.6 716.5,742.1 730.0,753.3 753.0,766.0 760.5,768.2 767.1,768.6" fill="none" stroke="#000" stroke-opacity="0.85" stroke-width="5.2" stroke-linejoin="round"/>
<path d="M766.1,773.6 780.5,770.0 794.5,769.7 801.0,768.8 807.0,766.8 812.5,763.5 819.5,755.8 836.0,740.1 839.3,735.1 846.7,720.1 858.8,706.1 865.0,696.1 868.1,687.6 868.8,683.6 868.4,671.6 865.7,655.1 858.1,637.1 850.9,624.6 845.3,615.6 840.3,609.6 838.0,607.8 828.5,605.0 811.0,602.0 784.5,595.3 746.5,600.8 731.0,604.0 710.0,614.0 702.6,621.1 695.9,628.6 694.3,631.1 687.0,653.6 686.7,671.1 687.2,683.6 693.3,708.6 700.4,728.1 713.0,745.5 727.0,757.1 752.0,770.5 759.5,772.9 766.1,773.6" fill="none" stroke="#fff" stroke-opacity="0.77" stroke-width="6.0" stroke-linejoin="round"/>
<path d="M765.4,778.6 781.5,774.2 795.5,774.0 803.5,772.8 809.5,770.8 815.0,767.6 822.5,759.0 839.1,743.1 842.7,737.6 850.2,722.6 864.0,707.1 869.0,699.1 872.8,689.6 873.8,684.1 873.6,671.1 870.7,653.6 862.4,634.6 850.8,614.6 843.5,605.0 840.5,602.7 829.5,599.7 811.0,596.9 784.5,590.1 743.5,596.4 729.5,599.2 706.5,610.0 692.5,624.5 689.6,628.6 682.0,653.1 681.9,671.6 682.5,684.1 688.8,709.6 696.1,730.1 709.5,748.9 724.0,761.0 751.5,775.2 759.0,777.8 765.4,778.6" fill="none" stroke="#000" stroke-opacity="0.85" stroke-width="5.2" stroke-linejoin="round"/>
<path d="M764.8,783.6 782.3,778.6 796.5,778.2 805.5,776.8 812.0,774.7 817.5,771.7 825.7,762.1 842.5,745.8 845.9,740.6 853.7,725.1 857.4,720.6 868.2,709.6 873.0,702.0 877.5,691.3 878.9,685.1 878.9,671.1 876.0,652.6 866.5,631.5 853.8,610.1 846.3,600.1 843.8,598.1 831.0,594.5 811.5,591.9 792.5,586.5 784.5,584.9 735.5,592.7 726.5,595.0 703.0,605.9 688.6,621.1 685.0,626.1 677.0,652.6 677.9,684.6 684.4,711.1 692.0,732.6 705.9,752.1 721.3,765.1 751.0,779.9 758.0,782.4 764.8,783.6" fill="none" stroke="#fff" stroke-opacity="0.77" stroke-width="6.0" stroke-linejoin="round"/>
<path d="M766.8,788.1 783.0,783.1 797.5,782.4 807.5,780.7 815.0,778.3 820.5,775.2 829.0,765.1 846.2,748.1 849.4,743.1 854.3,732.6 857.3,727.6 861.0,723.2 871.5,713.0 876.0,706.7 881.9,693.6 883.9,686.6 884.5,674.6 880.9,650.6 871.2,629.1 857.0,606.1 849.0,595.1 846.0,593.1 832.5,589.4 812.5,586.9 793.0,581.4 784.5,579.7 733.0,588.1 724.5,590.4 700.0,601.6 684.8,617.6 680.5,623.2 672.0,652.1 672.8,679.1 673.5,687.1 677.0,701.6 681.3,716.6 687.6,734.6 702.5,755.5 711.5,763.6 719.5,769.9 732.0,775.2 753.5,785.7 762.0,788.2 766.8,788.1" fill="none" stroke="#000" stroke-opacity="0.85" stroke-width="5.2" stroke-linejoin="round"/>
<path d="M765.9,793.1 783.5,787.8 798.5,786.7 809.0,784.6 817.0,782.1 823.0,779.1 832.3,768.1 849.3,751.1 852.5,746.1 857.7,735.1 860.9,730.1 864.5,725.9 875.4,715.6 879.8,709.6 886.7,695.1 889.1,687.6 889.7,674.6 885.7,648.6 876.0,626.6 862.0,604.6 852.5,591.1 851.0,589.5 848.0,588.0 834.0,584.3 813.5,581.8 793.0,576.1 784.5,574.5 762.0,578.8 728.5,583.9 720.0,586.9 697.0,597.3 680.5,614.6 675.8,620.6 666.9,651.6 668.1,679.6 668.8,687.6 672.5,702.6 676.9,718.1 683.5,737.1 699.0,758.7 717.0,774.2 735.0,781.7 753.5,790.5 761.0,792.8 765.9,793.1" fill="none" stroke="#fff" stroke-opacity="0.77" stroke-width="6.0" stroke-linejoin="round"/>
<path d="M766.7,797.6 784.0,792.6 799.5,791.2 808.0,789.1 818.5,786.1 825.5,782.9 835.3,771.6 852.5,754.1 855.7,749.1 861.0,738.1 864.1,733.1 868.0,728.6 879.0,718.6 883.6,712.6 891.5,696.6 894.3,688.1 894.8,674.1 890.5,646.6 880.9,624.1 855.5,586.6 853.5,584.6 849.5,582.8 835.5,579.2 814.0,576.7 794.0,571.1 785.0,569.3 761.0,574.1 727.0,579.1 720.0,581.4 694.5,592.6 683.1,604.1 671.3,617.6 662.0,651.1 663.0,673.6 664.7,690.6 672.2,718.6 679.1,739.1 695.6,762.1 714.5,778.5 733.5,786.0 754.5,795.5 762.5,797.9 766.7,797.6" fill="none" stroke="#000" stroke-opacity="0.85" stroke-width="5.2" stroke-linejoin="round"/>
<path d="M765.2,802.6 784.5,797.5 801.5,795.6 822.5,789.2 828.5,786.3 844.7,768.1 855.7,757.1 859.2,751.6 865.0,739.6 868.5,734.5 882.6,721.6 887.0,716.0 895.9,699.1 899.0,691.1 899.7,686.1 899.8,673.1 896.4,649.1 895.2,644.6 888.1,626.1 885.3,620.6 858.0,581.4 856.0,579.7 851.0,577.6 836.5,574.0 815.0,571.7 795.0,566.1 785.0,564.1 760.5,569.2 724.0,574.6 691.0,588.5 672.5,607.9 666.5,615.1 657.2,649.1 656.9,654.1 659.4,688.6 667.9,720.1 674.7,741.1 692.0,765.2 711.5,782.4 732.5,790.6 754.0,800.0 760.5,802.1 765.2,802.6" fill="none" stroke="#fff" stroke-opacity="0.77" stroke-width="6.0" stroke-linejoin="round"/>
<path d="M764.3,807.1 781.5,802.8 802.0,800.4 828.0,791.7 831.0,790.1 848.6,770.6 859.5,759.6 862.8,754.1 867.7,743.6 871.6,737.6 875.0,733.9 886.5,724.0 891.0,718.3 900.4,701.1 903.9,692.6 904.6,687.1 904.4,671.6 901.1,647.6 900.3,644.1 891.8,621.1 875.2,596.1 861.0,577.2 859.5,575.6 855.5,573.8 842.0,569.7 816.5,566.8 786.0,559.2 782.5,559.4 759.5,564.5 722.5,569.8 688.0,584.1 661.8,612.6 652.4,648.1 652.3,655.6 654.9,689.6 663.4,721.1 670.5,743.4 688.4,768.1 709.1,786.6 756.0,805.5 761.5,807.0 764.3,807.1" fill="none" stroke="#000" stroke-opacity="0.85" stroke-width="5.2" stroke-linejoin="round"/>
<path d="M765.8,812.1 782.5,807.8 803.0,806.2 817.0,800.1 831.5,795.9 836.0,793.1 839.1,790.1 851.7,774.6 860.8,766.6 863.8,763.1 867.3,757.1 872.0,745.8 875.5,740.6 879.5,736.6 887.5,730.7 892.1,726.1 896.0,720.6 900.7,710.6 905.3,703.1 909.4,693.6 910.0,687.1 909.4,670.6 906.0,644.6 896.6,618.1 880.1,593.6 871.3,583.1 863.5,572.1 861.0,570.3 853.0,567.0 839.5,563.7 817.5,561.7 796.0,555.6 787.0,553.8 781.5,554.2 758.0,559.4 721.0,564.6 685.0,579.6 658.3,608.1 656.8,610.6 647.2,647.1 647.0,656.6 649.8,691.1 658.3,722.6 665.9,746.1 684.0,771.0 706.5,791.5 717.0,796.1 729.0,799.8 739.5,803.9 755.5,810.9 761.0,812.3 765.8,812.1" fill="none" stroke="#fff" stroke-opacity="0.77" stroke-width="6.0" stroke-linejoin="round"/>
<path d="M764.5,817.6 783.0,813.2 800.5,813.0 804.5,812.3 818.5,805.0 834.5,800.3 840.5,796.7 844.5,792.7 856.5,777.7 865.1,770.1 868.0,766.8 871.5,760.7 876.4,749.1 879.7,744.1 883.5,740.3 891.5,734.5 896.5,729.5 900.3,724.1 905.3,713.6 910.6,705.1 914.9,695.1 915.5,690.1 914.7,670.1 911.6,645.1 910.7,641.1 901.6,615.6 895.0,604.6 885.2,590.6 875.5,579.7 867.0,568.3 863.5,565.6 854.5,561.7 840.5,558.3 818.5,556.3 797.0,550.2 787.5,548.3 781.0,548.8 758.0,553.8 738.5,556.2 719.5,559.3 681.5,575.3 654.0,604.6 651.6,608.6 641.8,645.6 641.5,657.1 644.3,692.1 653.0,724.3 659.2,744.6 661.2,749.1 679.5,774.3 703.5,796.1 715.0,801.6 738.5,809.3 754.5,816.2 760.0,817.7 764.5,817.6" fill="none" stroke="#000" stroke-opacity="0.85" stroke-width="5.2" stroke-linejoin="round"/>
<path d="M764.3,823.1 781.5,818.6 788.5,818.4 801.5,819.0 806.0,818.4 809.5,816.9 822.5,808.8 838.0,804.4 844.8,800.6 848.5,797.0 861.0,781.0 872.0,770.7 875.6,764.6 880.6,752.6 884.0,747.6 888.0,743.6 896.0,737.8 901.0,732.7 904.8,727.1 910.1,716.1 916.0,707.1 920.2,697.1 921.0,691.6 920.0,669.6 917.0,644.6 915.9,639.6 906.1,612.6 898.2,599.1 890.0,587.1 879.7,576.1 870.5,564.5 865.0,560.4 853.0,555.4 841.5,552.9 820.0,550.9 797.5,544.6 788.0,542.9 780.5,543.4 762.0,547.5 737.5,550.7 718.0,554.1 682.5,568.5 678.0,571.0 649.7,601.1 646.3,607.1 636.4,644.6 636.1,657.6 638.9,693.1 647.8,726.1 654.1,746.6 656.5,752.0 675.5,778.1 701.0,800.9 713.3,807.1 737.0,814.6 754.5,822.1 759.5,823.4 764.3,823.1" fill="none" stroke="#fff" stroke-opacity="0.77" stroke-width="6.0" stroke-linejoin="round"/>
<path d="M762.0,829.1 782.5,823.7 789.5,823.6 802.5,824.7 808.0,824.1 812.3,822.1 825.5,813.1 830.5,811.2 842.5,808.2 849.5,804.2 853.0,800.6 860.5,790.1 865.3,784.6 876.3,774.1 879.8,768.1 884.8,756.1 888.0,751.3 892.0,747.3 900.0,741.6 905.4,736.1 909.0,730.8 914.7,719.1 921.4,709.1 925.3,699.6 926.4,693.1 925.4,669.1 922.5,644.1 921.2,638.1 910.7,610.1 902.0,594.5 894.9,583.6 882.9,571.1 874.5,561.1 867.5,555.6 854.5,550.2 843.0,547.5 821.0,545.5 798.5,539.2 788.5,537.4 780.0,538.1 761.5,542.0 737.0,545.2 717.0,548.7 680.5,563.3 675.0,566.4 671.0,570.0 645.5,597.6 643.0,601.1 641.2,605.1 631.0,643.6 630.6,658.1 633.6,694.6 642.5,727.6 649.0,748.6 651.6,754.6 671.1,781.6 698.5,805.6 712.0,812.7 736.0,820.1 755.0,828.1 758.5,829.0 762.0,829.1" fill="none" stroke="#000" stroke-opacity="0.85" stroke-width="5.2" stroke-linejoin="round"/>
<path d="M763.9,834.6 777.5,830.0 783.0,828.8 790.0,828.7 804.0,830.1 810.0,829.4 815.0,827.1 824.5,819.9 829.0,817.3 834.0,815.4 846.5,812.2 853.5,808.3 857.6,804.1 867.3,790.6 880.6,777.6 883.8,772.1 889.0,759.8 892.0,755.1 896.0,751.0 904.5,744.9 909.7,739.6 913.1,734.6 919.2,722.1 926.8,711.1 930.5,701.6 931.8,694.1 931.0,668.1 928.1,643.6 926.4,636.6 915.3,607.6 903.5,586.1 899.6,580.1 896.1,576.1 874.5,554.0 867.0,549.4 855.5,544.7 844.5,542.2 822.0,540.1 799.5,533.8 789.0,532.0 780.0,532.6 761.0,536.5 736.0,539.7 715.5,543.4 678.0,558.4 671.5,562.1 667.1,566.1 641.2,594.1 638.1,598.6 635.9,603.6 625.6,642.6 625.0,647.6 625.1,658.6 628.2,695.6 637.2,729.1 643.8,750.6 647.0,757.6 667.0,785.4 672.5,790.7 696.0,810.3 708.0,817.0 716.0,820.2 737.5,826.4 756.0,834.4 760.0,835.0 763.9,834.6" fill="none" stroke="#fff" stroke-opacity="0.77" stroke-width="6.0" stroke-linejoin="round"/>
<path d="M762.4,840.6 768.0,839.4 778.0,835.4 784.0,834.0 791.0,833.8 805.0,835.3 812.5,834.4 818.3,831.6 828.0,824.2 832.4,821.6 849.6,816.6 857.1,812.6 861.6,808.1 871.5,794.1 885.3,780.6 888.1,775.6 893.1,763.6 896.2,758.6 900.2,754.6 908.5,748.6 913.6,743.6 917.3,738.1 923.5,725.6 931.7,714.1 934.5,707.6 936.5,700.1 937.0,694.6 936.8,667.6 935.4,654.1 932.0,636.1 920.1,605.6 906.5,580.3 899.9,571.6 882.2,553.6 877.0,549.2 868.5,544.2 856.5,539.3 846.0,536.8 823.5,534.8 800.5,528.4 789.5,526.5 779.5,527.3 766.5,530.0 735.5,534.2 713.5,538.3 676.0,553.3 668.0,557.8 663.0,562.4 637.0,590.6 633.2,596.1 630.6,602.1 620.1,642.1 619.5,647.6 619.6,659.1 622.9,697.1 631.9,730.6 638.7,752.6 642.2,760.1 663.0,789.4 669.0,795.1 693.5,814.9 706.0,822.1 714.0,825.6 737.0,831.8 755.5,840.0 762.4,840.6" fill="none" stroke="#000" stroke-opacity="0.85" stroke-width="5.2" stroke-linejoin="round"/>
<path d="M763.7,846.1 769.0,844.9 779.0,840.9 785.0,839.3 792.0,839.1 806.5,840.3 814.5,839.3 821.4,836.1 835.9,826.1 853.6,820.6 862.0,815.8 866.0,811.6 875.2,798.1 889.6,784.1 892.3,779.1 897.3,767.1 900.5,762.1 904.4,758.1 915.6,749.6 920.4,743.6 927.0,730.4 937.6,715.1 940.0,708.6 942.1,698.1 942.5,666.1 939.8,646.1 937.6,635.6 924.7,603.1 910.1,575.6 905.4,569.1 883.5,547.4 875.0,541.5 865.0,536.7 851.5,532.2 825.0,529.4 802.0,523.1 792.5,521.2 779.0,521.9 766.5,524.4 734.5,528.8 713.0,532.8 674.0,548.1 666.0,552.5 659.5,558.1 639.1,580.1 632.0,588.0 628.5,593.2 625.0,601.6 615.2,638.6 614.2,644.6 614.1,658.6 616.8,694.6 625.5,728.1 633.0,752.7 635.7,759.6 640.0,767.0 655.3,788.6 659.0,793.3 665.0,799.1 686.9,816.6 704.0,827.2 711.5,830.7 718.5,833.0 737.0,837.4 755.0,845.4 759.5,846.3 763.7,846.1" fill="none" stroke="#fff" stroke-opacity="0.77" stroke-width="6.0" stroke-linejoin="round"/>
</g>
<g mask="url(#mo)">
<path d="M762.1,829.1 782.0,823.7 789.0,823.5 802.5,824.7 808.0,824.1 812.0,822.3 825.5,813.1 830.5,811.2 842.5,808.2 849.5,804.2 853.0,800.6 860.5,790.1 865.5,784.3 876.3,774.1 880.0,767.6 884.6,756.6 887.8,751.6 891.5,747.7 900.0,741.6 905.0,736.6 909.0,730.8 914.6,719.1 921.4,709.1 925.4,699.1 926.5,693.1 925.5,669.1 922.5,644.1 921.2,638.1 910.7,610.1 903.0,596.1 894.9,583.6 882.5,570.7 874.5,561.1 867.5,555.6 854.5,550.2 843.5,547.6 820.5,545.4 798.5,539.2 787.5,537.4 779.5,538.1 753.0,543.7 747.5,546.1 732.5,554.9 728.2,558.1 724.0,562.6 684.9,618.6 656.1,662.1 646.5,677.6 644.2,682.6 642.6,690.1 641.5,711.1 641.5,722.1 642.2,726.6 649.0,748.6 651.4,754.1 670.2,780.6 676.0,786.3 696.5,804.1 704.0,808.9 717.5,814.7 739.0,821.2 754.5,828.0 758.5,829.0 762.1,829.1" fill="none" stroke="#000" stroke-opacity="0.25" stroke-width="5.2" stroke-linejoin="round"/>
<path d="M764.3,823.1 781.5,818.6 788.5,818.4 801.5,819.1 806.0,818.4 809.5,816.9 822.5,808.8 828.0,806.8 838.0,804.4 844.8,800.6 848.5,797.0 861.0,781.0 871.7,771.1 875.6,764.6 880.5,752.8 884.0,747.6 888.0,743.6 896.0,737.8 901.0,732.7 904.8,727.1 910.1,716.1 916.0,707.1 920.4,696.6 921.1,691.6 920.0,669.6 917.0,644.6 915.9,639.6 906.1,612.6 898.2,599.1 890.1,587.1 879.7,576.1 870.5,564.5 865.0,560.4 853.0,555.4 842.0,552.9 819.5,550.8 797.5,544.6 787.0,542.9 780.0,543.5 755.0,549.0 750.2,551.1 735.5,559.6 732.0,562.1 728.2,566.1 689.2,622.1 660.7,665.1 651.4,680.1 649.3,684.6 648.1,690.6 647.0,711.6 647.0,721.6 647.6,725.6 654.1,746.6 656.3,751.6 674.6,777.1 699.5,799.8 706.0,803.8 714.0,807.4 737.5,814.8 755.0,822.2 760.0,823.4 764.3,823.1" fill="none" stroke="#fff" stroke-opacity="0.35" stroke-width="6.0" stroke-linejoin="round"/>
<path d="M764.5,817.6 777.0,814.3 783.5,813.2 800.5,813.0 804.5,812.4 818.5,805.0 834.5,800.3 840.5,796.7 844.6,792.6 856.5,777.7 865.5,769.7 868.1,766.6 871.6,760.6 876.1,749.6 879.7,744.1 883.8,740.1 891.5,734.5 896.5,729.5 900.3,724.1 905.3,713.6 910.7,705.1 914.9,695.1 915.5,690.1 914.7,670.1 911.6,645.1 910.7,641.1 901.6,615.6 895.0,604.6 884.9,590.1 875.5,579.7 867.0,568.3 863.5,565.6 854.5,561.7 840.5,558.3 818.5,556.3 796.5,550.1 787.0,548.3 780.5,548.9 757.0,554.2 738.5,564.3 732.5,569.6 693.8,625.1 665.3,668.1 654.6,686.1 653.6,691.1 652.5,711.6 652.9,724.1 659.2,744.6 661.2,749.1 679.0,773.7 702.5,795.4 707.5,798.4 716.0,801.9 738.5,809.3 755.0,816.4 760.5,817.8 764.5,817.6" fill="none" stroke="#000" stroke-opacity="0.55" stroke-width="5.2" stroke-linejoin="round"/>
<path d="M765.9,812.1 783.0,807.7 800.0,806.8 803.5,806.1 816.5,800.3 831.5,796.0 836.5,792.7 851.7,774.6 861.0,766.4 864.0,762.9 867.3,757.1 871.9,746.1 875.5,740.5 879.5,736.6 887.5,730.7 892.1,726.1 896.0,720.6 900.7,710.6 905.4,703.1 909.4,693.6 910.0,687.1 909.4,670.6 905.9,644.1 896.7,618.1 880.0,593.4 871.3,583.1 863.5,572.1 861.0,570.3 853.5,567.2 839.5,563.7 817.5,561.8 795.5,555.5 786.5,553.8 781.5,554.2 759.0,559.3 741.0,569.4 736.8,573.1 698.4,628.1 670.0,671.0 659.9,687.6 659.0,692.1 658.0,712.1 658.2,722.6 665.9,746.1 683.6,770.6 705.5,790.8 708.5,792.6 718.0,796.5 729.5,800.0 755.5,810.9 761.5,812.4 765.9,812.1" fill="none" stroke="#fff" stroke-opacity="0.70" stroke-width="6.0" stroke-linejoin="round"/>
<path d="M763.9,807.1 781.5,802.6 802.0,800.3 828.5,791.5 831.0,790.1 835.5,785.6 847.6,771.1 859.5,759.6 862.8,754.1 868.4,741.6 871.2,737.6 887.8,722.6 891.8,717.1 896.4,707.6 900.1,701.6 904.0,692.1 904.6,685.6 904.4,671.1 901.2,648.1 900.5,644.6 891.6,620.6 875.2,596.1 860.5,576.5 855.5,573.8 841.5,569.6 816.0,566.8 796.5,561.4 786.0,559.2 782.5,559.4 760.5,564.5 744.5,573.6 741.5,576.1 702.9,631.1 674.5,674.0 665.0,689.5 664.3,693.1 663.3,713.1 663.4,721.1 670.7,743.6 688.0,767.6 710.0,787.1 731.0,794.8 756.0,805.5 763.9,807.1" fill="none" stroke="#000" stroke-opacity="0.95" stroke-width="5.2" stroke-linejoin="round"/>
<path d="M764.9,802.1 784.0,796.2 801.5,794.4 822.0,788.6 828.0,785.9 837.2,774.1 843.1,767.6 852.0,760.0 855.5,756.1 858.6,751.1 863.9,738.6 866.9,734.1 870.5,730.4 878.0,724.9 882.0,721.1 886.8,715.1 895.2,699.1 898.7,690.6 899.4,684.1 899.4,672.6 896.0,649.1 888.9,629.1 885.5,621.6 870.5,599.1 857.8,581.1 854.0,578.9 847.0,576.4 839.5,574.7 815.0,572.3 795.0,566.5 784.5,564.4 762.5,569.6 747.5,578.3 745.5,580.1 707.1,634.6 679.3,676.6 670.1,691.6 668.5,714.6 668.9,720.6 675.5,741.1 692.5,764.7 712.5,782.3 732.5,789.4 757.0,800.6 764.9,802.1" fill="none" stroke="#fff" stroke-opacity="0.95" stroke-width="6.0" stroke-linejoin="round"/>
<path d="M764.8,796.6 783.5,790.2 790.5,789.2 799.0,789.2 807.5,787.5 818.0,784.7 824.5,781.6 834.0,769.3 839.8,763.1 847.4,756.6 851.2,752.6 854.2,747.6 861.2,732.6 866.0,727.1 874.0,721.1 879.0,716.2 883.1,710.6 890.5,696.1 893.4,688.1 894.0,674.1 890.0,647.6 880.8,625.1 856.1,587.6 854.2,585.1 852.5,584.1 838.5,580.1 814.0,577.7 793.5,571.8 784.5,570.0 764.5,574.7 751.0,582.8 745.6,589.6 711.4,638.1 684.0,679.4 675.4,693.6 674.0,717.6 678.1,731.6 680.5,738.6 696.6,761.1 709.0,772.2 716.0,777.6 734.5,784.4 754.5,794.0 760.0,795.9 764.8,796.6" fill="none" stroke="#000" stroke-opacity="0.95" stroke-width="5.2" stroke-linejoin="round"/>
<path d="M766.5,790.6 782.5,784.5 789.5,783.6 797.5,783.9 806.0,782.6 814.0,780.6 821.2,777.1 830.0,765.4 846.8,749.1 850.0,744.1 854.4,733.6 857.0,729.0 861.5,723.8 869.5,717.7 874.5,712.9 878.8,707.1 885.4,694.1 887.6,687.6 888.4,674.1 884.9,649.6 875.4,627.6 861.5,604.7 852.0,590.7 850.0,589.1 837.0,585.5 813.0,583.1 785.0,575.6 771.0,578.6 765.0,580.6 753.5,588.2 715.6,641.6 688.8,682.1 680.9,695.1 679.6,717.1 683.5,730.3 685.5,736.1 700.5,757.3 709.8,765.6 719.0,772.6 731.5,777.2 755.0,788.7 762.5,790.9 766.5,790.6" fill="none" stroke="#fff" stroke-opacity="0.70" stroke-width="6.0" stroke-linejoin="round"/>
</g>
</g></g>
<path d="M753,812.5 L745.2,828.6 L759.8,828.6Z" fill="#000"/>
<path d="M839.7,789.1 L855,798.1 L843.3,806.2Z" fill="#000"/>
<path d="M889.1,720.8 L907.1,722.1 L899,734.3Z" fill="#000"/>
<g transform="translate(709.10,872.30) scale(1.0224,1.0182)"><path d="M0,21.9L3.2,21.9L10,9.6L8.1,8.2Z" fill="#000"/><path d="M5.3,4.1C5.6,1.3 6.8,0.2 8,0.2C9.4,0.3 9.7,2.5 9.7,5L9.5,18C9.5,21 10.6,21.9 11.4,21.9C12.4,21.9 13,20.6 13.3,19.2" fill="none" stroke="#000" stroke-width="1.3"/></g>
<text x="727.27" y="874.38" font-size="22.74" style="font-family:'Liberation Sans'" textLength="47.46" lengthAdjust="spacingAndGlyphs" >pred</text>
<text x="727.67" y="903.38" font-size="23.01" style="font-family:'Liberation Sans'" textLength="39.35" lengthAdjust="spacingAndGlyphs" >und</text>
<text x="780.62" y="894.44" font-size="27.62" style="font-family:'Liberation Sans'" textLength="18.87" lengthAdjust="spacingAndGlyphs" >=</text>
<text x="808.32" y="893.40" font-size="31.54" style="font-family:'Liberation Sans'" textLength="16.56" lengthAdjust="spacingAndGlyphs" >4</text>
<g transform="translate(826.90,871.20) scale(0.9701,1.0227)"><path d="M0,21.9L3.2,21.9L10,9.6L8.1,8.2Z" fill="#000"/><path d="M5.3,4.1C5.6,1.3 6.8,0.2 8,0.2C9.4,0.3 9.7,2.5 9.7,5L9.5,18C9.5,21 10.6,21.9 11.4,21.9C12.4,21.9 13,20.6 13.3,19.2" fill="none" stroke="#000" stroke-width="1.3"/></g>
<text x="840.02" y="901.07" font-size="24.01" style="font-family:'Liberation Sans'" textLength="13.96" lengthAdjust="spacingAndGlyphs" >0</text>
</svg></body></html>
